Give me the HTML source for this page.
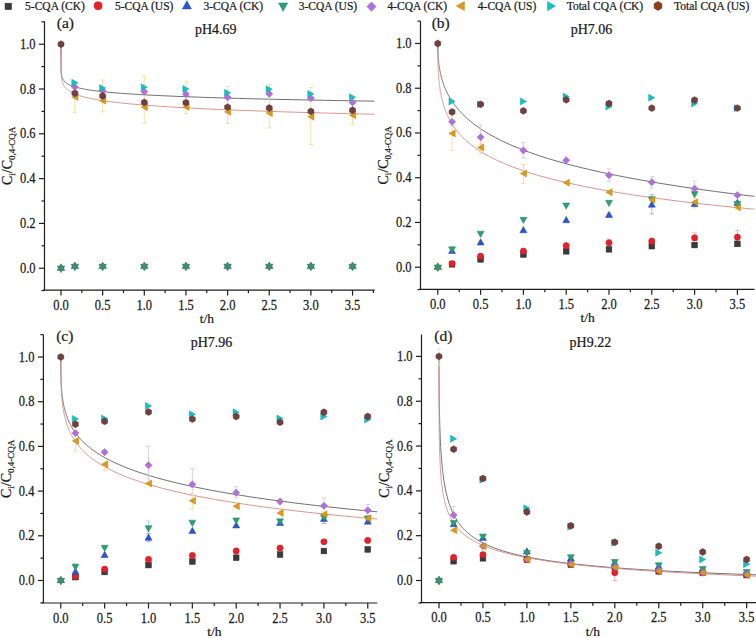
<!DOCTYPE html><html><head><meta charset="utf-8"><style>
html,body{margin:0;padding:0;background:#fff;}
body{width:756px;height:638px;overflow:hidden;position:relative;}
svg{position:absolute;left:0;top:0;}
text{font-family:"Liberation Serif",serif;fill:#1a1a1a;stroke:#1a1a1a;stroke-width:0.22px;}
</style></head><body>
<svg width="756" height="638" viewBox="0 0 756 638">
<rect x="5.04" y="3.15" width="6.51" height="6.51" fill="#3a3a3a" stroke="#2e2e2e" stroke-width="0.5"/>
<text x="25.1" y="10.2" font-size="11.5">5-CQA (CK)</text>
<circle cx="98.10" cy="5.80" r="4.08" fill="#e8202a" stroke="#c81a20" stroke-width="0.5"/>
<text x="114.9" y="10.2" font-size="11.5">5-CQA (US)</text>
<polygon points="186.90,0.72 191.46,8.88 182.34,8.88" fill="#2a55d0" stroke="#2448b0" stroke-width="0.5"/>
<text x="203.4" y="10.2" font-size="11.5">3-CQA (CK)</text>
<polygon points="283.10,11.18 287.66,3.02 278.54,3.02" fill="#28a070" stroke="#208a60" stroke-width="0.5"/>
<text x="298.7" y="10.2" font-size="11.5">3-CQA (US)</text>
<polygon points="371.50,1.92 376.18,6.60 371.50,11.28 366.82,6.60" fill="#b070dc" stroke="#9a60c8" stroke-width="0.5"/>
<text x="387.4" y="10.2" font-size="11.5">4-CQA (CK)</text>
<polygon points="456.22,6.00 464.38,1.44 464.38,10.56" fill="#dc9a18" stroke="#c08410" stroke-width="0.5"/>
<text x="477.8" y="10.2" font-size="11.5">4-CQA (US)</text>
<polygon points="555.58,6.10 547.42,1.54 547.42,10.66" fill="#16c0c2" stroke="#12a8aa" stroke-width="0.5"/>
<text x="566.7" y="10.2" font-size="11.5">Total CQA (CK)</text>
<polygon points="658.00,1.40 661.90,3.65 661.90,8.15 658.00,10.40 654.10,8.15 654.10,3.65" fill="#8a4210" stroke="#583030" stroke-width="0.5"/>
<text x="674.1" y="10.2" font-size="11.5">Total CQA (US)</text>
<g stroke="#1e1e1e" stroke-width="1.2" fill="none">
<path d="M44.5,21.6 V290.1 M43.0,290.1 H374.6"/>
<path d="M41.5,290.60 H44.5"/>
<path d="M39.0,268.20 H44.5"/>
<path d="M41.5,245.80 H44.5"/>
<path d="M39.0,223.40 H44.5"/>
<path d="M41.5,201.00 H44.5"/>
<path d="M39.0,178.60 H44.5"/>
<path d="M41.5,156.20 H44.5"/>
<path d="M39.0,133.80 H44.5"/>
<path d="M41.5,111.40 H44.5"/>
<path d="M39.0,89.00 H44.5"/>
<path d="M41.5,66.60 H44.5"/>
<path d="M39.0,44.20 H44.5"/>
<path d="M41.5,21.80 H44.5"/>
<path d="M61.00,290.1 V295.6"/>
<path d="M81.83,290.1 V293.1"/>
<path d="M102.65,290.1 V295.6"/>
<path d="M123.47,290.1 V293.1"/>
<path d="M144.30,290.1 V295.6"/>
<path d="M165.12,290.1 V293.1"/>
<path d="M185.95,290.1 V295.6"/>
<path d="M206.78,290.1 V293.1"/>
<path d="M227.60,290.1 V295.6"/>
<path d="M248.42,290.1 V293.1"/>
<path d="M269.25,290.1 V295.6"/>
<path d="M290.07,290.1 V293.1"/>
<path d="M310.90,290.1 V295.6"/>
<path d="M331.72,290.1 V293.1"/>
<path d="M352.55,290.1 V295.6"/>
<path d="M373.38,290.1 V293.1"/>
</g>
<text transform="translate(35.5,272.70) scale(1,1.18)" font-size="12.5" text-anchor="end">0.0</text>
<text transform="translate(35.5,227.90) scale(1,1.18)" font-size="12.5" text-anchor="end">0.2</text>
<text transform="translate(35.5,183.10) scale(1,1.18)" font-size="12.5" text-anchor="end">0.4</text>
<text transform="translate(35.5,138.30) scale(1,1.18)" font-size="12.5" text-anchor="end">0.6</text>
<text transform="translate(35.5,93.50) scale(1,1.18)" font-size="12.5" text-anchor="end">0.8</text>
<text transform="translate(35.5,48.70) scale(1,1.18)" font-size="12.5" text-anchor="end">1.0</text>
<text transform="translate(61.00,309.70) scale(1,1.18)" font-size="12.5" text-anchor="middle">0.0</text>
<text transform="translate(102.65,309.70) scale(1,1.18)" font-size="12.5" text-anchor="middle">0.5</text>
<text transform="translate(144.30,309.70) scale(1,1.18)" font-size="12.5" text-anchor="middle">1.0</text>
<text transform="translate(185.95,309.70) scale(1,1.18)" font-size="12.5" text-anchor="middle">1.5</text>
<text transform="translate(227.60,309.70) scale(1,1.18)" font-size="12.5" text-anchor="middle">2.0</text>
<text transform="translate(269.25,309.70) scale(1,1.18)" font-size="12.5" text-anchor="middle">2.5</text>
<text transform="translate(310.90,309.70) scale(1,1.18)" font-size="12.5" text-anchor="middle">3.0</text>
<text transform="translate(352.55,309.70) scale(1,1.18)" font-size="12.5" text-anchor="middle">3.5</text>
<text x="206.78" y="323.1" font-size="13.5" text-anchor="middle">t/h</text>
<text transform="translate(12.0,155.85000000000002) rotate(-90)" font-size="14" text-anchor="middle">C<tspan font-size="9" dy="3">i</tspan><tspan dy="-3">/C</tspan><tspan font-size="9" dy="3">0,4-CQA</tspan></text>
<text x="56.8" y="28.200000000000003" font-size="15.5">(a)</text>
<text x="195.0" y="33.900000000000006" font-size="14">pH4.69</text>
<path d="M61.00,44.20 L61.00,52.41 L61.00,52.45 L61.00,52.50 L61.00,52.54 L61.00,52.59 L61.00,52.63 L61.00,52.68 L61.00,52.73 L61.00,52.77 L61.00,52.82 L61.00,52.87 L61.00,52.92 L61.00,52.96 L61.00,53.01 L61.00,53.06 L61.00,53.11 L61.00,53.16 L61.00,53.21 L61.00,53.26 L61.00,53.31 L61.00,53.36 L61.00,53.41 L61.00,53.46 L61.00,53.51 L61.00,53.56 L61.00,53.61 L61.00,53.66 L61.00,53.71 L61.00,53.76 L61.00,53.82 L61.00,53.87 L61.00,53.92 L61.00,53.98 L61.00,54.03 L61.00,54.08 L61.00,54.14 L61.00,54.19 L61.00,54.25 L61.00,54.30 L61.00,54.35 L61.00,54.41 L61.00,54.47 L61.00,54.52 L61.00,54.58 L61.00,54.63 L61.00,54.69 L61.00,54.75 L61.00,54.81 L61.00,54.86 L61.00,54.92 L61.00,54.98 L61.00,55.04 L61.00,55.10 L61.00,55.15 L61.00,55.21 L61.00,55.27 L61.00,55.33 L61.00,55.39 L61.00,55.45 L61.00,55.52 L61.00,55.58 L61.00,55.64 L61.00,55.70 L61.00,55.76 L61.00,55.82 L61.00,55.89 L61.00,55.95 L61.00,56.01 L61.00,56.08 L61.00,56.14 L61.00,56.21 L61.00,56.27 L61.00,56.33 L61.00,56.40 L61.00,56.47 L61.00,56.53 L61.00,56.60 L61.00,56.66 L61.00,56.73 L61.00,56.80 L61.00,56.87 L61.00,56.93 L61.00,57.00 L61.00,57.07 L61.00,57.14 L61.00,57.21 L61.00,57.28 L61.00,57.35 L61.00,57.42 L61.00,57.49 L61.00,57.56 L61.00,57.63 L61.00,57.70 L61.00,57.77 L61.00,57.85 L61.00,57.92 L61.00,57.99 L61.00,58.06 L61.00,58.14 L61.00,58.21 L61.00,58.29 L61.00,58.36 L61.00,58.44 L61.00,58.51 L61.00,58.59 L61.00,58.66 L61.00,58.74 L61.00,58.82 L61.00,58.90 L61.00,58.97 L61.00,59.05 L61.00,59.13 L61.00,59.21 L61.00,59.29 L61.00,59.37 L61.00,59.45 L61.00,59.53 L61.00,59.61 L61.00,59.69 L61.00,59.77 L61.00,59.85 L61.00,59.93 L61.00,60.02 L61.00,60.10 L61.00,60.18 L61.00,60.27 L61.00,60.35 L61.00,60.44 L61.00,60.52 L61.00,60.61 L61.00,60.69 L61.00,60.78 L61.00,60.86 L61.00,60.95 L61.00,61.04 L61.00,61.13 L61.00,61.21 L61.00,61.30 L61.00,61.39 L61.00,61.48 L61.00,61.57 L61.00,61.66 L61.00,61.75 L61.00,61.84 L61.00,61.93 L61.00,62.03 L61.00,62.12 L61.01,62.21 L61.01,62.30 L61.01,62.40 L61.01,62.49 L61.01,62.59 L61.01,62.68 L61.01,62.77 L61.01,62.87 L61.01,62.97 L61.01,63.06 L61.01,63.16 L61.01,63.26 L61.01,63.36 L61.01,63.45 L61.01,63.55 L61.01,63.65 L61.01,63.75 L61.01,63.85 L61.01,63.95 L61.01,64.05 L61.01,64.15 L61.01,64.26 L61.01,64.36 L61.01,64.46 L61.01,64.56 L61.02,64.67 L61.02,64.77 L61.02,64.88 L61.02,64.98 L61.02,65.09 L61.02,65.19 L61.02,65.30 L61.02,65.40 L61.02,65.51 L61.02,65.62 L61.02,65.73 L61.02,65.84 L61.03,65.94 L61.03,66.05 L61.03,66.16 L61.03,66.27 L61.03,66.39 L61.03,66.50 L61.03,66.61 L61.04,66.72 L61.04,66.83 L61.04,66.95 L61.04,67.06 L61.04,67.18 L61.04,67.29 L61.05,67.41 L61.05,67.52 L61.05,67.64 L61.05,67.75 L61.05,67.87 L61.06,67.99 L61.06,68.11 L61.06,68.23 L61.07,68.34 L61.07,68.46 L61.07,68.58 L61.07,68.70 L61.08,68.83 L61.08,68.95 L61.08,69.07 L61.09,69.19 L61.09,69.32 L61.10,69.44 L61.10,69.56 L61.11,69.69 L61.11,69.81 L61.11,69.94 L61.12,70.06 L61.13,70.19 L61.13,70.32 L61.14,70.44 L61.14,70.57 L61.15,70.70 L61.16,70.83 L61.16,70.96 L61.17,71.09 L61.18,71.22 L61.19,71.35 L61.19,71.48 L61.20,71.62 L61.21,71.75 L61.22,71.88 L61.23,72.01 L61.24,72.15 L61.25,72.28 L61.26,72.42 L61.28,72.55 L61.29,72.69 L61.30,72.83 L61.31,72.96 L61.33,73.10 L61.34,73.24 L61.36,73.38 L61.37,73.52 L61.39,73.66 L61.41,73.80 L61.43,73.94 L61.44,74.08 L61.46,74.22 L61.49,74.37 L61.51,74.51 L61.53,74.65 L61.55,74.80 L61.58,74.94 L61.60,75.09 L61.63,75.23 L61.66,75.38 L61.69,75.53 L61.72,75.67 L61.75,75.82 L61.79,75.97 L61.82,76.12 L61.86,76.27 L61.90,76.42 L61.94,76.57 L61.98,76.72 L62.02,76.87 L62.07,77.02 L62.11,77.17 L62.16,77.33 L62.22,77.48 L62.27,77.63 L62.33,77.79 L62.39,77.94 L62.45,78.10 L62.51,78.26 L62.58,78.41 L62.65,78.57 L62.73,78.73 L62.80,78.89 L62.88,79.05 L62.97,79.21 L63.06,79.37 L63.15,79.53 L63.24,79.69 L63.34,79.85 L63.45,80.01 L63.56,80.17 L63.67,80.34 L63.79,80.50 L63.92,80.67 L64.05,80.83 L64.18,81.00 L64.32,81.16 L64.47,81.33 L64.63,81.49 L64.79,81.66 L64.96,81.83 L65.14,82.00 L65.32,82.17 L65.51,82.34 L65.72,82.51 L65.93,82.68 L66.15,82.85 L66.38,83.02 L66.62,83.19 L66.87,83.37 L67.13,83.54 L67.41,83.71 L67.69,83.89 L67.99,84.06 L68.30,84.24 L68.63,84.41 L68.97,84.59 L69.33,84.77 L69.70,84.94 L70.09,85.12 L70.49,85.30 L70.92,85.48 L71.36,85.66 L71.82,85.84 L72.31,86.02 L72.81,86.20 L73.34,86.38 L73.89,86.57 L74.47,86.75 L75.07,86.93 L75.70,87.12 L76.36,87.30 L77.04,87.48 L77.76,87.67 L78.51,87.86 L79.29,88.04 L80.11,88.23 L80.96,88.42 L81.85,88.60 L82.79,88.79 L83.76,88.98 L84.78,89.17 L85.84,89.36 L86.95,89.55 L88.11,89.74 L89.32,89.93 L90.59,90.12 L91.91,90.32 L93.29,90.51 L94.73,90.70 L96.24,90.90 L97.81,91.09 L99.46,91.29 L101.18,91.48 L102.97,91.68 L104.85,91.87 L106.81,92.07 L108.86,92.27 L111.00,92.46 L113.23,92.66 L115.56,92.86 L118.00,93.06 L120.55,93.26 L123.21,93.46 L125.99,93.66 L128.90,93.86 L131.93,94.06 L135.10,94.26 L138.41,94.47 L141.87,94.67 L145.48,94.87 L149.26,95.08 L153.20,95.28 L157.32,95.49 L161.63,95.69 L166.13,95.90 L170.82,96.10 L175.73,96.31 L180.86,96.52 L186.21,96.72 L191.81,96.93 L197.66,97.14 L203.76,97.35 L210.14,97.56 L216.81,97.77 L223.77,97.98 L231.04,98.19 L238.64,98.40 L246.58,98.61 L254.87,98.82 L263.54,99.03 L272.59,99.25 L282.05,99.46 L291.92,99.67 L302.24,99.89 L313.02,100.10 L324.29,100.31 L336.05,100.53 L348.34,100.74 L361.19,100.96 L374.60,101.18" fill="none" stroke="#606060" stroke-width="0.9"/>
<path d="M61.00,44.20 L61.00,51.33 L61.00,51.38 L61.00,51.43 L61.00,51.47 L61.00,51.52 L61.00,51.57 L61.00,51.61 L61.00,51.66 L61.00,51.71 L61.00,51.76 L61.00,51.80 L61.00,51.85 L61.00,51.90 L61.00,51.95 L61.00,52.00 L61.00,52.05 L61.00,52.10 L61.00,52.15 L61.00,52.20 L61.00,52.25 L61.00,52.31 L61.00,52.36 L61.00,52.41 L61.00,52.46 L61.00,52.51 L61.00,52.57 L61.00,52.62 L61.00,52.67 L61.00,52.73 L61.00,52.78 L61.00,52.84 L61.00,52.89 L61.00,52.95 L61.00,53.00 L61.00,53.06 L61.00,53.12 L61.00,53.17 L61.00,53.23 L61.00,53.29 L61.00,53.35 L61.00,53.40 L61.00,53.46 L61.00,53.52 L61.00,53.58 L61.00,53.64 L61.00,53.70 L61.00,53.76 L61.00,53.82 L61.00,53.88 L61.00,53.94 L61.00,54.01 L61.00,54.07 L61.00,54.13 L61.00,54.19 L61.00,54.26 L61.00,54.32 L61.00,54.38 L61.00,54.45 L61.00,54.51 L61.00,54.58 L61.00,54.64 L61.00,54.71 L61.00,54.78 L61.00,54.84 L61.00,54.91 L61.00,54.98 L61.00,55.05 L61.00,55.11 L61.00,55.18 L61.00,55.25 L61.00,55.32 L61.00,55.39 L61.00,55.46 L61.00,55.53 L61.00,55.61 L61.00,55.68 L61.00,55.75 L61.00,55.82 L61.00,55.89 L61.00,55.97 L61.00,56.04 L61.00,56.12 L61.00,56.19 L61.00,56.27 L61.00,56.34 L61.00,56.42 L61.00,56.49 L61.00,56.57 L61.00,56.65 L61.00,56.73 L61.00,56.81 L61.00,56.88 L61.00,56.96 L61.00,57.04 L61.00,57.12 L61.00,57.20 L61.00,57.29 L61.00,57.37 L61.00,57.45 L61.00,57.53 L61.00,57.61 L61.00,57.70 L61.00,57.78 L61.00,57.87 L61.00,57.95 L61.00,58.04 L61.00,58.12 L61.00,58.21 L61.00,58.30 L61.00,58.38 L61.00,58.47 L61.00,58.56 L61.00,58.65 L61.00,58.74 L61.00,58.83 L61.00,58.92 L61.00,59.01 L61.00,59.10 L61.00,59.20 L61.00,59.29 L61.00,59.38 L61.00,59.47 L61.00,59.57 L61.00,59.66 L61.00,59.76 L61.00,59.86 L61.00,59.95 L61.00,60.05 L61.00,60.15 L61.00,60.24 L61.00,60.34 L61.00,60.44 L61.00,60.54 L61.00,60.64 L61.00,60.74 L61.00,60.84 L61.00,60.95 L61.00,61.05 L61.00,61.15 L61.00,61.26 L61.00,61.36 L61.00,61.47 L61.00,61.57 L61.00,61.68 L61.00,61.78 L61.00,61.89 L61.00,62.00 L61.01,62.11 L61.01,62.22 L61.01,62.33 L61.01,62.44 L61.01,62.55 L61.01,62.66 L61.01,62.77 L61.01,62.88 L61.01,63.00 L61.01,63.11 L61.01,63.22 L61.01,63.34 L61.01,63.46 L61.01,63.57 L61.01,63.69 L61.01,63.81 L61.01,63.93 L61.01,64.04 L61.01,64.16 L61.01,64.28 L61.01,64.41 L61.01,64.53 L61.01,64.65 L61.01,64.77 L61.01,64.90 L61.02,65.02 L61.02,65.15 L61.02,65.27 L61.02,65.40 L61.02,65.52 L61.02,65.65 L61.02,65.78 L61.02,65.91 L61.02,66.04 L61.02,66.17 L61.02,66.30 L61.02,66.43 L61.03,66.56 L61.03,66.70 L61.03,66.83 L61.03,66.97 L61.03,67.10 L61.03,67.24 L61.03,67.37 L61.04,67.51 L61.04,67.65 L61.04,67.79 L61.04,67.93 L61.04,68.07 L61.04,68.21 L61.05,68.35 L61.05,68.49 L61.05,68.64 L61.05,68.78 L61.05,68.92 L61.06,69.07 L61.06,69.22 L61.06,69.36 L61.07,69.51 L61.07,69.66 L61.07,69.81 L61.07,69.96 L61.08,70.11 L61.08,70.26 L61.08,70.41 L61.09,70.57 L61.09,70.72 L61.10,70.87 L61.10,71.03 L61.11,71.19 L61.11,71.34 L61.11,71.50 L61.12,71.66 L61.13,71.82 L61.13,71.98 L61.14,72.14 L61.14,72.30 L61.15,72.46 L61.16,72.62 L61.16,72.79 L61.17,72.95 L61.18,73.12 L61.19,73.29 L61.19,73.45 L61.20,73.62 L61.21,73.79 L61.22,73.96 L61.23,74.13 L61.24,74.30 L61.25,74.47 L61.26,74.65 L61.28,74.82 L61.29,74.99 L61.30,75.17 L61.31,75.34 L61.33,75.52 L61.34,75.70 L61.36,75.88 L61.37,76.06 L61.39,76.24 L61.41,76.42 L61.43,76.60 L61.44,76.78 L61.46,76.97 L61.49,77.15 L61.51,77.34 L61.53,77.52 L61.55,77.71 L61.58,77.90 L61.60,78.09 L61.63,78.28 L61.66,78.47 L61.69,78.66 L61.72,78.85 L61.75,79.05 L61.79,79.24 L61.82,79.43 L61.86,79.63 L61.90,79.83 L61.94,80.02 L61.98,80.22 L62.02,80.42 L62.07,80.62 L62.11,80.82 L62.16,81.03 L62.22,81.23 L62.27,81.43 L62.33,81.64 L62.39,81.84 L62.45,82.05 L62.51,82.26 L62.58,82.46 L62.65,82.67 L62.73,82.88 L62.80,83.09 L62.88,83.31 L62.97,83.52 L63.06,83.73 L63.15,83.95 L63.24,84.16 L63.34,84.38 L63.45,84.60 L63.56,84.81 L63.67,85.03 L63.79,85.25 L63.92,85.47 L64.05,85.70 L64.18,85.92 L64.32,86.14 L64.47,86.37 L64.63,86.59 L64.79,86.82 L64.96,87.04 L65.14,87.27 L65.32,87.50 L65.51,87.73 L65.72,87.96 L65.93,88.19 L66.15,88.43 L66.38,88.66 L66.62,88.89 L66.87,89.13 L67.13,89.37 L67.41,89.60 L67.69,89.84 L67.99,90.08 L68.30,90.32 L68.63,90.56 L68.97,90.80 L69.33,91.05 L69.70,91.29 L70.09,91.53 L70.49,91.78 L70.92,92.03 L71.36,92.27 L71.82,92.52 L72.31,92.77 L72.81,93.02 L73.34,93.27 L73.89,93.52 L74.47,93.78 L75.07,94.03 L75.70,94.28 L76.36,94.54 L77.04,94.80 L77.76,95.05 L78.51,95.31 L79.29,95.57 L80.11,95.83 L80.96,96.09 L81.85,96.35 L82.79,96.62 L83.76,96.88 L84.78,97.14 L85.84,97.41 L86.95,97.68 L88.11,97.94 L89.32,98.21 L90.59,98.48 L91.91,98.75 L93.29,99.02 L94.73,99.29 L96.24,99.57 L97.81,99.84 L99.46,100.11 L101.18,100.39 L102.97,100.66 L104.85,100.94 L106.81,101.22 L108.86,101.50 L111.00,101.78 L113.23,102.06 L115.56,102.34 L118.00,102.62 L120.55,102.90 L123.21,103.19 L125.99,103.47 L128.90,103.76 L131.93,104.05 L135.10,104.33 L138.41,104.62 L141.87,104.91 L145.48,105.20 L149.26,105.49 L153.20,105.78 L157.32,106.07 L161.63,106.37 L166.13,106.66 L170.82,106.96 L175.73,107.25 L180.86,107.55 L186.21,107.85 L191.81,108.14 L197.66,108.44 L203.76,108.74 L210.14,109.04 L216.81,109.35 L223.77,109.65 L231.04,109.95 L238.64,110.25 L246.58,110.56 L254.87,110.86 L263.54,111.17 L272.59,111.48 L282.05,111.78 L291.92,112.09 L302.24,112.40 L313.02,112.71 L324.29,113.02 L336.05,113.33 L348.34,113.65 L361.19,113.96 L374.60,114.27" fill="none" stroke="#d88a80" stroke-width="0.9"/>
<path d="M74.88,112.30 V82.28 M72.58,112.30 H77.18 M72.58,82.28 H77.18" stroke="#f0da98" stroke-width="0.85" fill="none"/>
<path d="M102.65,111.85 V80.04 M100.35,111.85 H104.95 M100.35,80.04 H104.95" stroke="#f0da98" stroke-width="0.85" fill="none"/>
<path d="M144.30,123.05 V76.23 M142.00,123.05 H146.60 M142.00,76.23 H146.60" stroke="#f0da98" stroke-width="0.85" fill="none"/>
<path d="M185.95,113.64 V81.38 M183.65,113.64 H188.25 M183.65,81.38 H188.25" stroke="#f0da98" stroke-width="0.85" fill="none"/>
<path d="M227.60,123.27 V86.54 M225.30,123.27 H229.90 M225.30,86.54 H229.90" stroke="#f0da98" stroke-width="0.85" fill="none"/>
<path d="M269.25,127.98 V84.52 M266.95,127.98 H271.55 M266.95,84.52 H271.55" stroke="#f0da98" stroke-width="0.85" fill="none"/>
<path d="M310.90,144.55 V87.43 M308.60,144.55 H313.20 M308.60,87.43 H313.20" stroke="#f0da98" stroke-width="0.85" fill="none"/>
<path d="M352.55,124.84 V97.96 M350.25,124.84 H354.85 M350.25,97.96 H354.85" stroke="#f0da98" stroke-width="0.85" fill="none"/>
<polygon points="61.00,263.80 64.80,270.40 57.20,270.40" fill="#348c6c" stroke="#2c6450" stroke-width="0.5"/>
<polygon points="61.00,272.60 64.80,266.00 57.20,266.00" fill="#348c6c" stroke="#2c6450" stroke-width="0.5"/>
<circle cx="61.00" cy="268.20" r="2.6" fill="#3c9070"/>
<polygon points="74.88,262.01 78.68,268.61 71.08,268.61" fill="#348c6c" stroke="#2c6450" stroke-width="0.5"/>
<polygon points="74.88,270.81 78.68,264.21 71.08,264.21" fill="#348c6c" stroke="#2c6450" stroke-width="0.5"/>
<circle cx="74.88" cy="266.41" r="2.6" fill="#3c9070"/>
<polygon points="102.65,262.01 106.45,268.61 98.85,268.61" fill="#348c6c" stroke="#2c6450" stroke-width="0.5"/>
<polygon points="102.65,270.81 106.45,264.21 98.85,264.21" fill="#348c6c" stroke="#2c6450" stroke-width="0.5"/>
<circle cx="102.65" cy="266.41" r="2.6" fill="#3c9070"/>
<polygon points="144.30,262.01 148.10,268.61 140.50,268.61" fill="#348c6c" stroke="#2c6450" stroke-width="0.5"/>
<polygon points="144.30,270.81 148.10,264.21 140.50,264.21" fill="#348c6c" stroke="#2c6450" stroke-width="0.5"/>
<circle cx="144.30" cy="266.41" r="2.6" fill="#3c9070"/>
<polygon points="185.95,262.01 189.75,268.61 182.15,268.61" fill="#348c6c" stroke="#2c6450" stroke-width="0.5"/>
<polygon points="185.95,270.81 189.75,264.21 182.15,264.21" fill="#348c6c" stroke="#2c6450" stroke-width="0.5"/>
<circle cx="185.95" cy="266.41" r="2.6" fill="#3c9070"/>
<polygon points="227.60,262.01 231.40,268.61 223.80,268.61" fill="#348c6c" stroke="#2c6450" stroke-width="0.5"/>
<polygon points="227.60,270.81 231.40,264.21 223.80,264.21" fill="#348c6c" stroke="#2c6450" stroke-width="0.5"/>
<circle cx="227.60" cy="266.41" r="2.6" fill="#3c9070"/>
<polygon points="269.25,262.01 273.05,268.61 265.45,268.61" fill="#348c6c" stroke="#2c6450" stroke-width="0.5"/>
<polygon points="269.25,270.81 273.05,264.21 265.45,264.21" fill="#348c6c" stroke="#2c6450" stroke-width="0.5"/>
<circle cx="269.25" cy="266.41" r="2.6" fill="#3c9070"/>
<polygon points="310.90,262.01 314.70,268.61 307.10,268.61" fill="#348c6c" stroke="#2c6450" stroke-width="0.5"/>
<polygon points="310.90,270.81 314.70,264.21 307.10,264.21" fill="#348c6c" stroke="#2c6450" stroke-width="0.5"/>
<circle cx="310.90" cy="266.41" r="2.6" fill="#3c9070"/>
<polygon points="352.55,262.01 356.35,268.61 348.75,268.61" fill="#348c6c" stroke="#2c6450" stroke-width="0.5"/>
<polygon points="352.55,270.81 356.35,264.21 348.75,264.21" fill="#348c6c" stroke="#2c6450" stroke-width="0.5"/>
<circle cx="352.55" cy="266.41" r="2.6" fill="#3c9070"/>
<polygon points="74.88,83.40 78.47,86.98 74.88,90.57 71.30,86.98" fill="#b070dc" stroke="#9a60c8" stroke-width="0.5"/>
<polygon points="102.65,87.20 106.24,90.79 102.65,94.38 99.06,90.79" fill="#b070dc" stroke="#9a60c8" stroke-width="0.5"/>
<polygon points="144.30,88.10 147.89,91.69 144.30,95.28 140.71,91.69" fill="#b070dc" stroke="#9a60c8" stroke-width="0.5"/>
<polygon points="185.95,90.56 189.54,94.15 185.95,97.74 182.36,94.15" fill="#b070dc" stroke="#9a60c8" stroke-width="0.5"/>
<polygon points="227.60,93.70 231.19,97.29 227.60,100.88 224.01,97.29" fill="#b070dc" stroke="#9a60c8" stroke-width="0.5"/>
<polygon points="269.25,90.34 272.84,93.93 269.25,97.52 265.66,93.93" fill="#b070dc" stroke="#9a60c8" stroke-width="0.5"/>
<polygon points="310.90,94.60 314.49,98.18 310.90,101.77 307.31,98.18" fill="#b070dc" stroke="#9a60c8" stroke-width="0.5"/>
<polygon points="352.55,98.85 356.14,102.44 352.55,106.03 348.96,102.44" fill="#b070dc" stroke="#9a60c8" stroke-width="0.5"/>
<polygon points="71.76,97.06 78.01,93.57 78.01,100.56" fill="#dc9a18" stroke="#c08410" stroke-width="0.5"/>
<polygon points="99.52,100.65 105.78,97.15 105.78,104.14" fill="#dc9a18" stroke="#c08410" stroke-width="0.5"/>
<polygon points="141.17,107.14 147.43,103.65 147.43,110.64" fill="#dc9a18" stroke="#c08410" stroke-width="0.5"/>
<polygon points="182.82,106.92 189.08,103.42 189.08,110.42" fill="#dc9a18" stroke="#c08410" stroke-width="0.5"/>
<polygon points="224.47,111.85 230.73,108.35 230.73,115.34" fill="#dc9a18" stroke="#c08410" stroke-width="0.5"/>
<polygon points="266.12,113.19 272.38,109.70 272.38,116.69" fill="#dc9a18" stroke="#c08410" stroke-width="0.5"/>
<polygon points="307.77,116.78 314.03,113.28 314.03,120.27" fill="#dc9a18" stroke="#c08410" stroke-width="0.5"/>
<polygon points="349.42,115.21 355.68,111.71 355.68,118.70" fill="#dc9a18" stroke="#c08410" stroke-width="0.5"/>
<polygon points="78.01,82.73 71.76,79.23 71.76,86.22" fill="#16c0c2" stroke="#12a8aa" stroke-width="0.5"/>
<polygon points="105.78,88.10 99.52,84.61 99.52,91.60" fill="#16c0c2" stroke="#12a8aa" stroke-width="0.5"/>
<polygon points="147.43,87.21 141.17,83.71 141.17,90.70" fill="#16c0c2" stroke="#12a8aa" stroke-width="0.5"/>
<polygon points="189.08,89.00 182.82,85.50 182.82,92.50" fill="#16c0c2" stroke="#12a8aa" stroke-width="0.5"/>
<polygon points="230.73,92.81 224.47,89.31 224.47,96.30" fill="#16c0c2" stroke="#12a8aa" stroke-width="0.5"/>
<polygon points="272.38,89.22 266.12,85.73 266.12,92.72" fill="#16c0c2" stroke="#12a8aa" stroke-width="0.5"/>
<polygon points="314.03,93.93 307.77,90.43 307.77,97.42" fill="#16c0c2" stroke="#12a8aa" stroke-width="0.5"/>
<polygon points="355.68,97.29 349.42,93.79 349.42,100.78" fill="#16c0c2" stroke="#12a8aa" stroke-width="0.5"/>
<polygon points="61.00,40.75 63.99,42.47 63.99,45.92 61.00,47.65 58.01,45.92 58.01,42.47" fill="#704040" stroke="#583030" stroke-width="0.5"/>
<polygon points="74.88,89.81 77.87,91.53 77.87,94.98 74.88,96.71 71.90,94.98 71.90,91.53" fill="#704040" stroke="#583030" stroke-width="0.5"/>
<polygon points="102.65,92.49 105.64,94.22 105.64,97.67 102.65,99.39 99.66,97.67 99.66,94.22" fill="#704040" stroke="#583030" stroke-width="0.5"/>
<polygon points="144.30,98.99 147.29,100.72 147.29,104.16 144.30,105.89 141.31,104.16 141.31,100.72" fill="#704040" stroke="#583030" stroke-width="0.5"/>
<polygon points="185.95,99.21 188.94,100.94 188.94,104.39 185.95,106.11 182.96,104.39 182.96,100.94" fill="#704040" stroke="#583030" stroke-width="0.5"/>
<polygon points="227.60,103.69 230.59,105.42 230.59,108.87 227.60,110.59 224.61,108.87 224.61,105.42" fill="#704040" stroke="#583030" stroke-width="0.5"/>
<polygon points="269.25,104.59 272.24,106.31 272.24,109.76 269.25,111.49 266.26,109.76 266.26,106.31" fill="#704040" stroke="#583030" stroke-width="0.5"/>
<polygon points="310.90,107.95 313.89,109.68 313.89,113.12 310.90,114.85 307.91,113.12 307.91,109.68" fill="#704040" stroke="#583030" stroke-width="0.5"/>
<polygon points="352.55,106.83 355.54,108.56 355.54,112.00 352.55,113.73 349.56,112.00 349.56,108.56" fill="#704040" stroke="#583030" stroke-width="0.5"/>
<g stroke="#1e1e1e" stroke-width="1.2" fill="none">
<path d="M420.5,21.3 V289.3 M419.0,289.3 H754.5"/>
<path d="M417.5,289.57 H420.5"/>
<path d="M415.0,267.20 H420.5"/>
<path d="M417.5,244.83 H420.5"/>
<path d="M415.0,222.46 H420.5"/>
<path d="M417.5,200.09 H420.5"/>
<path d="M415.0,177.72 H420.5"/>
<path d="M417.5,155.35 H420.5"/>
<path d="M415.0,132.98 H420.5"/>
<path d="M417.5,110.61 H420.5"/>
<path d="M415.0,88.24 H420.5"/>
<path d="M417.5,65.87 H420.5"/>
<path d="M415.0,43.50 H420.5"/>
<path d="M417.5,21.13 H420.5"/>
<path d="M437.80,289.3 V294.8"/>
<path d="M459.20,289.3 V292.3"/>
<path d="M480.60,289.3 V294.8"/>
<path d="M502.00,289.3 V292.3"/>
<path d="M523.40,289.3 V294.8"/>
<path d="M544.80,289.3 V292.3"/>
<path d="M566.20,289.3 V294.8"/>
<path d="M587.60,289.3 V292.3"/>
<path d="M609.00,289.3 V294.8"/>
<path d="M630.40,289.3 V292.3"/>
<path d="M651.80,289.3 V294.8"/>
<path d="M673.20,289.3 V292.3"/>
<path d="M694.60,289.3 V294.8"/>
<path d="M716.00,289.3 V292.3"/>
<path d="M737.40,289.3 V294.8"/>
</g>
<text transform="translate(411.5,271.70) scale(1,1.18)" font-size="12.5" text-anchor="end">0.0</text>
<text transform="translate(411.5,226.96) scale(1,1.18)" font-size="12.5" text-anchor="end">0.2</text>
<text transform="translate(411.5,182.22) scale(1,1.18)" font-size="12.5" text-anchor="end">0.4</text>
<text transform="translate(411.5,137.48) scale(1,1.18)" font-size="12.5" text-anchor="end">0.6</text>
<text transform="translate(411.5,92.74) scale(1,1.18)" font-size="12.5" text-anchor="end">0.8</text>
<text transform="translate(411.5,48.00) scale(1,1.18)" font-size="12.5" text-anchor="end">1.0</text>
<text transform="translate(437.80,308.90) scale(1,1.18)" font-size="12.5" text-anchor="middle">0.0</text>
<text transform="translate(480.60,308.90) scale(1,1.18)" font-size="12.5" text-anchor="middle">0.5</text>
<text transform="translate(523.40,308.90) scale(1,1.18)" font-size="12.5" text-anchor="middle">1.0</text>
<text transform="translate(566.20,308.90) scale(1,1.18)" font-size="12.5" text-anchor="middle">1.5</text>
<text transform="translate(609.00,308.90) scale(1,1.18)" font-size="12.5" text-anchor="middle">2.0</text>
<text transform="translate(651.80,308.90) scale(1,1.18)" font-size="12.5" text-anchor="middle">2.5</text>
<text transform="translate(694.60,308.90) scale(1,1.18)" font-size="12.5" text-anchor="middle">3.0</text>
<text transform="translate(737.40,308.90) scale(1,1.18)" font-size="12.5" text-anchor="middle">3.5</text>
<text x="587.60" y="322.3" font-size="13.5" text-anchor="middle">t/h</text>
<text transform="translate(388.0,155.3) rotate(-90)" font-size="14" text-anchor="middle">C<tspan font-size="9" dy="3">i</tspan><tspan dy="-3">/C</tspan><tspan font-size="9" dy="3">0,4-CQA</tspan></text>
<text x="431.7" y="27.9" font-size="15.5">(b)</text>
<text x="570.6999999999999" y="33.6" font-size="14">pH7.06</text>
<path d="M437.80,43.50 L437.80,43.61 L437.80,43.61 L437.80,43.61 L437.80,43.62 L437.80,43.62 L437.80,43.62 L437.80,43.62 L437.80,43.63 L437.80,43.63 L437.80,43.63 L437.80,43.63 L437.80,43.64 L437.80,43.64 L437.80,43.64 L437.80,43.64 L437.80,43.65 L437.80,43.65 L437.80,43.65 L437.80,43.66 L437.80,43.66 L437.80,43.66 L437.80,43.67 L437.80,43.67 L437.80,43.67 L437.80,43.68 L437.80,43.68 L437.80,43.68 L437.80,43.69 L437.80,43.69 L437.80,43.69 L437.80,43.70 L437.80,43.70 L437.80,43.71 L437.80,43.71 L437.80,43.71 L437.80,43.72 L437.80,43.72 L437.80,43.73 L437.80,43.73 L437.80,43.74 L437.80,43.74 L437.80,43.75 L437.80,43.75 L437.80,43.75 L437.80,43.76 L437.80,43.77 L437.80,43.77 L437.80,43.78 L437.80,43.78 L437.80,43.79 L437.80,43.79 L437.80,43.80 L437.80,43.80 L437.80,43.81 L437.80,43.82 L437.80,43.82 L437.80,43.83 L437.80,43.84 L437.80,43.84 L437.80,43.85 L437.80,43.86 L437.80,43.86 L437.80,43.87 L437.80,43.88 L437.80,43.89 L437.80,43.89 L437.80,43.90 L437.80,43.91 L437.80,43.92 L437.80,43.93 L437.80,43.93 L437.80,43.94 L437.80,43.95 L437.80,43.96 L437.80,43.97 L437.80,43.98 L437.80,43.99 L437.80,44.00 L437.80,44.01 L437.80,44.02 L437.80,44.03 L437.80,44.04 L437.80,44.05 L437.80,44.06 L437.80,44.07 L437.80,44.08 L437.80,44.09 L437.80,44.11 L437.80,44.12 L437.80,44.13 L437.80,44.14 L437.80,44.16 L437.80,44.17 L437.80,44.18 L437.80,44.20 L437.80,44.21 L437.80,44.22 L437.80,44.24 L437.80,44.25 L437.80,44.27 L437.80,44.28 L437.80,44.30 L437.80,44.31 L437.80,44.33 L437.80,44.35 L437.80,44.36 L437.80,44.38 L437.80,44.40 L437.80,44.42 L437.80,44.43 L437.80,44.45 L437.80,44.47 L437.80,44.49 L437.80,44.51 L437.80,44.53 L437.80,44.55 L437.80,44.57 L437.80,44.59 L437.80,44.61 L437.80,44.64 L437.80,44.66 L437.80,44.68 L437.80,44.70 L437.80,44.73 L437.80,44.75 L437.80,44.78 L437.80,44.80 L437.80,44.83 L437.80,44.86 L437.80,44.88 L437.80,44.91 L437.80,44.94 L437.80,44.97 L437.80,45.00 L437.80,45.02 L437.80,45.05 L437.80,45.09 L437.80,45.12 L437.80,45.15 L437.80,45.18 L437.80,45.21 L437.80,45.25 L437.80,45.28 L437.80,45.32 L437.80,45.35 L437.80,45.39 L437.81,45.43 L437.81,45.47 L437.81,45.51 L437.81,45.55 L437.81,45.59 L437.81,45.63 L437.81,45.67 L437.81,45.71 L437.81,45.76 L437.81,45.80 L437.81,45.85 L437.81,45.89 L437.81,45.94 L437.81,45.99 L437.81,46.04 L437.81,46.09 L437.81,46.14 L437.81,46.19 L437.81,46.24 L437.81,46.30 L437.81,46.35 L437.81,46.41 L437.81,46.47 L437.81,46.52 L437.81,46.58 L437.81,46.64 L437.82,46.71 L437.82,46.77 L437.82,46.83 L437.82,46.90 L437.82,46.97 L437.82,47.03 L437.82,47.10 L437.82,47.17 L437.82,47.25 L437.82,47.32 L437.82,47.40 L437.83,47.47 L437.83,47.55 L437.83,47.63 L437.83,47.71 L437.83,47.79 L437.83,47.88 L437.83,47.96 L437.83,48.05 L437.84,48.14 L437.84,48.23 L437.84,48.32 L437.84,48.42 L437.84,48.52 L437.84,48.61 L437.85,48.71 L437.85,48.82 L437.85,48.92 L437.85,49.03 L437.86,49.13 L437.86,49.24 L437.86,49.36 L437.86,49.47 L437.87,49.59 L437.87,49.71 L437.87,49.83 L437.88,49.95 L437.88,50.08 L437.88,50.20 L437.89,50.33 L437.89,50.47 L437.89,50.60 L437.90,50.74 L437.90,50.88 L437.91,51.03 L437.91,51.17 L437.92,51.32 L437.92,51.47 L437.93,51.63 L437.93,51.78 L437.94,51.95 L437.95,52.11 L437.95,52.28 L437.96,52.45 L437.97,52.62 L437.97,52.79 L437.98,52.97 L437.99,53.16 L438.00,53.34 L438.01,53.53 L438.02,53.73 L438.02,53.92 L438.03,54.12 L438.05,54.33 L438.06,54.54 L438.07,54.75 L438.08,54.97 L438.09,55.19 L438.11,55.41 L438.12,55.64 L438.13,55.87 L438.15,56.11 L438.16,56.35 L438.18,56.59 L438.20,56.84 L438.21,57.10 L438.23,57.36 L438.25,57.62 L438.27,57.89 L438.29,58.16 L438.32,58.44 L438.34,58.73 L438.36,59.01 L438.39,59.31 L438.41,59.61 L438.44,59.91 L438.47,60.22 L438.50,60.54 L438.53,60.86 L438.56,61.19 L438.60,61.52 L438.63,61.86 L438.67,62.20 L438.71,62.55 L438.75,62.91 L438.79,63.27 L438.84,63.64 L438.88,64.02 L438.93,64.40 L438.98,64.79 L439.04,65.18 L439.09,65.59 L439.15,66.00 L439.21,66.41 L439.27,66.84 L439.34,67.27 L439.41,67.71 L439.48,68.15 L439.55,68.61 L439.63,69.07 L439.71,69.54 L439.80,70.01 L439.89,70.50 L439.98,70.99 L440.08,71.49 L440.18,72.00 L440.28,72.52 L440.40,73.04 L440.51,73.58 L440.63,74.12 L440.76,74.67 L440.89,75.23 L441.03,75.80 L441.17,76.38 L441.32,76.97 L441.48,77.57 L441.64,78.17 L441.82,78.79 L442.00,79.42 L442.18,80.05 L442.38,80.70 L442.58,81.35 L442.80,82.02 L443.02,82.69 L443.25,83.38 L443.50,84.08 L443.75,84.78 L444.02,85.50 L444.29,86.23 L444.58,86.97 L444.89,87.72 L445.20,88.48 L445.53,89.25 L445.88,90.03 L446.24,90.83 L446.62,91.63 L447.01,92.45 L447.42,93.27 L447.85,94.11 L448.30,94.97 L448.77,95.83 L449.26,96.70 L449.77,97.59 L450.30,98.49 L450.86,99.40 L451.44,100.32 L452.05,101.25 L452.69,102.20 L453.35,103.16 L454.05,104.13 L454.77,105.11 L455.53,106.10 L456.32,107.11 L457.15,108.13 L458.01,109.16 L458.92,110.20 L459.86,111.26 L460.85,112.33 L461.87,113.41 L462.95,114.50 L464.07,115.61 L465.24,116.73 L466.47,117.86 L467.75,119.00 L469.09,120.16 L470.48,121.33 L471.94,122.51 L473.47,123.70 L475.06,124.90 L476.72,126.12 L478.46,127.35 L480.27,128.59 L482.17,129.84 L484.15,131.11 L486.22,132.39 L488.38,133.67 L490.64,134.97 L493.00,136.29 L495.46,137.61 L498.04,138.94 L500.73,140.29 L503.54,141.65 L506.47,143.02 L509.54,144.39 L512.74,145.78 L516.08,147.18 L519.58,148.59 L523.23,150.02 L527.04,151.45 L531.03,152.89 L535.19,154.34 L539.54,155.80 L544.08,157.27 L548.82,158.75 L553.78,160.23 L558.96,161.73 L564.37,163.24 L570.02,164.75 L575.92,166.27 L582.09,167.80 L588.53,169.34 L595.26,170.88 L602.29,172.43 L609.63,173.99 L617.30,175.56 L625.31,177.13 L633.69,178.70 L642.43,180.29 L651.57,181.88 L661.11,183.47 L671.08,185.07 L681.49,186.67 L692.37,188.28 L703.74,189.89 L715.61,191.51 L728.01,193.13 L740.97,194.75 L754.50,196.38" fill="none" stroke="#606060" stroke-width="0.9"/>
<path d="M437.80,43.50 L437.80,43.95 L437.80,43.95 L437.80,43.96 L437.80,43.97 L437.80,43.98 L437.80,43.98 L437.80,43.99 L437.80,44.00 L437.80,44.01 L437.80,44.02 L437.80,44.03 L437.80,44.04 L437.80,44.04 L437.80,44.05 L437.80,44.06 L437.80,44.07 L437.80,44.08 L437.80,44.09 L437.80,44.10 L437.80,44.11 L437.80,44.12 L437.80,44.13 L437.80,44.14 L437.80,44.15 L437.80,44.17 L437.80,44.18 L437.80,44.19 L437.80,44.20 L437.80,44.21 L437.80,44.22 L437.80,44.24 L437.80,44.25 L437.80,44.26 L437.80,44.27 L437.80,44.29 L437.80,44.30 L437.80,44.31 L437.80,44.33 L437.80,44.34 L437.80,44.35 L437.80,44.37 L437.80,44.38 L437.80,44.40 L437.80,44.41 L437.80,44.43 L437.80,44.44 L437.80,44.46 L437.80,44.48 L437.80,44.49 L437.80,44.51 L437.80,44.53 L437.80,44.54 L437.80,44.56 L437.80,44.58 L437.80,44.60 L437.80,44.62 L437.80,44.64 L437.80,44.65 L437.80,44.67 L437.80,44.69 L437.80,44.71 L437.80,44.73 L437.80,44.76 L437.80,44.78 L437.80,44.80 L437.80,44.82 L437.80,44.84 L437.80,44.86 L437.80,44.89 L437.80,44.91 L437.80,44.93 L437.80,44.96 L437.80,44.98 L437.80,45.01 L437.80,45.03 L437.80,45.06 L437.80,45.09 L437.80,45.11 L437.80,45.14 L437.80,45.17 L437.80,45.19 L437.80,45.22 L437.80,45.25 L437.80,45.28 L437.80,45.31 L437.80,45.34 L437.80,45.37 L437.80,45.40 L437.80,45.44 L437.80,45.47 L437.80,45.50 L437.80,45.54 L437.80,45.57 L437.80,45.60 L437.80,45.64 L437.80,45.68 L437.80,45.71 L437.80,45.75 L437.80,45.79 L437.80,45.83 L437.80,45.86 L437.80,45.90 L437.80,45.94 L437.80,45.99 L437.80,46.03 L437.80,46.07 L437.80,46.11 L437.80,46.16 L437.80,46.20 L437.80,46.25 L437.80,46.29 L437.80,46.34 L437.80,46.39 L437.80,46.44 L437.80,46.48 L437.80,46.53 L437.80,46.58 L437.80,46.64 L437.80,46.69 L437.80,46.74 L437.80,46.80 L437.80,46.85 L437.80,46.91 L437.80,46.96 L437.80,47.02 L437.80,47.08 L437.80,47.14 L437.80,47.20 L437.80,47.26 L437.80,47.33 L437.80,47.39 L437.80,47.46 L437.80,47.52 L437.80,47.59 L437.80,47.66 L437.80,47.73 L437.80,47.80 L437.80,47.87 L437.80,47.94 L437.80,48.01 L437.80,48.09 L437.80,48.17 L437.80,48.24 L437.80,48.32 L437.80,48.40 L437.80,48.48 L437.81,48.57 L437.81,48.65 L437.81,48.74 L437.81,48.82 L437.81,48.91 L437.81,49.00 L437.81,49.09 L437.81,49.19 L437.81,49.28 L437.81,49.38 L437.81,49.47 L437.81,49.57 L437.81,49.67 L437.81,49.78 L437.81,49.88 L437.81,49.99 L437.81,50.09 L437.81,50.20 L437.81,50.31 L437.81,50.43 L437.81,50.54 L437.81,50.66 L437.81,50.77 L437.81,50.89 L437.81,51.02 L437.81,51.14 L437.82,51.27 L437.82,51.39 L437.82,51.52 L437.82,51.66 L437.82,51.79 L437.82,51.93 L437.82,52.06 L437.82,52.21 L437.82,52.35 L437.82,52.49 L437.82,52.64 L437.83,52.79 L437.83,52.94 L437.83,53.10 L437.83,53.25 L437.83,53.41 L437.83,53.58 L437.83,53.74 L437.83,53.91 L437.84,54.08 L437.84,54.25 L437.84,54.43 L437.84,54.60 L437.84,54.79 L437.84,54.97 L437.85,55.16 L437.85,55.34 L437.85,55.54 L437.85,55.73 L437.86,55.93 L437.86,56.13 L437.86,56.34 L437.86,56.55 L437.87,56.76 L437.87,56.97 L437.87,57.19 L437.88,57.41 L437.88,57.63 L437.88,57.86 L437.89,58.09 L437.89,58.33 L437.89,58.57 L437.90,58.81 L437.90,59.05 L437.91,59.30 L437.91,59.56 L437.92,59.81 L437.92,60.07 L437.93,60.34 L437.93,60.61 L437.94,60.88 L437.95,61.16 L437.95,61.44 L437.96,61.72 L437.97,62.01 L437.97,62.31 L437.98,62.61 L437.99,62.91 L438.00,63.22 L438.01,63.53 L438.02,63.84 L438.02,64.16 L438.03,64.49 L438.05,64.82 L438.06,65.15 L438.07,65.49 L438.08,65.84 L438.09,66.19 L438.11,66.54 L438.12,66.90 L438.13,67.27 L438.15,67.64 L438.16,68.02 L438.18,68.40 L438.20,68.78 L438.21,69.17 L438.23,69.57 L438.25,69.97 L438.27,70.38 L438.29,70.80 L438.32,71.22 L438.34,71.64 L438.36,72.08 L438.39,72.51 L438.41,72.96 L438.44,73.41 L438.47,73.86 L438.50,74.32 L438.53,74.79 L438.56,75.27 L438.60,75.75 L438.63,76.23 L438.67,76.73 L438.71,77.23 L438.75,77.74 L438.79,78.25 L438.84,78.77 L438.88,79.30 L438.93,79.83 L438.98,80.37 L439.04,80.92 L439.09,81.47 L439.15,82.04 L439.21,82.60 L439.27,83.18 L439.34,83.76 L439.41,84.35 L439.48,84.95 L439.55,85.56 L439.63,86.17 L439.71,86.79 L439.80,87.42 L439.89,88.05 L439.98,88.70 L440.08,89.35 L440.18,90.00 L440.28,90.67 L440.40,91.34 L440.51,92.03 L440.63,92.71 L440.76,93.41 L440.89,94.12 L441.03,94.83 L441.17,95.55 L441.32,96.28 L441.48,97.02 L441.64,97.76 L441.82,98.52 L442.00,99.28 L442.18,100.05 L442.38,100.83 L442.58,101.62 L442.80,102.41 L443.02,103.21 L443.25,104.02 L443.50,104.84 L443.75,105.67 L444.02,106.51 L444.29,107.35 L444.58,108.21 L444.89,109.07 L445.20,109.94 L445.53,110.82 L445.88,111.70 L446.24,112.60 L446.62,113.50 L447.01,114.41 L447.42,115.33 L447.85,116.26 L448.30,117.20 L448.77,118.14 L449.26,119.09 L449.77,120.05 L450.30,121.02 L450.86,122.00 L451.44,122.99 L452.05,123.98 L452.69,124.98 L453.35,125.99 L454.05,127.01 L454.77,128.03 L455.53,129.07 L456.32,130.11 L457.15,131.15 L458.01,132.21 L458.92,133.27 L459.86,134.34 L460.85,135.42 L461.87,136.51 L462.95,137.60 L464.07,138.70 L465.24,139.81 L466.47,140.92 L467.75,142.04 L469.09,143.17 L470.48,144.31 L471.94,145.45 L473.47,146.60 L475.06,147.75 L476.72,148.91 L478.46,150.08 L480.27,151.25 L482.17,152.43 L484.15,153.61 L486.22,154.80 L488.38,156.00 L490.64,157.20 L493.00,158.41 L495.46,159.62 L498.04,160.83 L500.73,162.06 L503.54,163.28 L506.47,164.51 L509.54,165.75 L512.74,166.99 L516.08,168.23 L519.58,169.48 L523.23,170.73 L527.04,171.99 L531.03,173.25 L535.19,174.51 L539.54,175.78 L544.08,177.05 L548.82,178.32 L553.78,179.59 L558.96,180.87 L564.37,182.15 L570.02,183.43 L575.92,184.71 L582.09,186.00 L588.53,187.28 L595.26,188.57 L602.29,189.86 L609.63,191.15 L617.30,192.44 L625.31,193.74 L633.69,195.03 L642.43,196.32 L651.57,197.62 L661.11,198.91 L671.08,200.20 L681.49,201.50 L692.37,202.79 L703.74,204.08 L715.61,205.37 L728.01,206.66 L740.97,207.95 L754.50,209.24" fill="none" stroke="#d88a80" stroke-width="0.9"/>
<path d="M452.07,150.43 V116.43 M449.77,150.43 H454.37 M449.77,116.43 H454.37" stroke="#f0da98" stroke-width="0.85" fill="none"/>
<path d="M480.60,144.16 V125.15 M478.30,144.16 H482.90 M478.30,125.15 H482.90" stroke="#d8c8e0" stroke-width="0.85" fill="none"/>
<path d="M480.60,153.78 V141.93 M478.30,153.78 H482.90 M478.30,141.93 H482.90" stroke="#f0da98" stroke-width="0.85" fill="none"/>
<path d="M523.40,158.03 V142.60 M521.10,158.03 H525.70 M521.10,142.60 H525.70" stroke="#d8c8e0" stroke-width="0.85" fill="none"/>
<path d="M523.40,183.31 V164.52 M521.10,183.31 H525.70 M521.10,164.52 H525.70" stroke="#f0da98" stroke-width="0.85" fill="none"/>
<path d="M609.00,181.52 V168.77 M606.70,181.52 H611.30 M606.70,168.77 H611.30" stroke="#d8c8e0" stroke-width="0.85" fill="none"/>
<path d="M651.80,188.01 V176.38 M649.50,188.01 H654.10 M649.50,176.38 H654.10" stroke="#d8c8e0" stroke-width="0.85" fill="none"/>
<path d="M651.80,213.96 V194.72 M649.50,213.96 H654.10 M649.50,194.72 H654.10" stroke="#9aa8d8" stroke-width="0.85" fill="none"/>
<path d="M694.60,195.62 V181.08 M692.30,195.62 H696.90 M692.30,181.08 H696.90" stroke="#d8c8e0" stroke-width="0.85" fill="none"/>
<path d="M694.60,207.92 V197.85 M692.30,207.92 H696.90 M692.30,197.85 H696.90" stroke="#f0da98" stroke-width="0.85" fill="none"/>
<path d="M694.60,240.36 V232.97 M692.30,240.36 H696.90 M692.30,232.97 H696.90" stroke="#f0a0a0" stroke-width="0.85" fill="none"/>
<path d="M737.40,240.36 V230.29 M735.10,240.36 H739.70 M735.10,230.29 H739.70" stroke="#f0a0a0" stroke-width="0.85" fill="none"/>
<path d="M651.80,243.71 V238.12 M649.50,243.71 H654.10 M649.50,238.12 H654.10" stroke="#f0a0a0" stroke-width="0.85" fill="none"/>
<path d="M609.00,244.83 V239.24 M606.70,244.83 H611.30 M606.70,239.24 H611.30" stroke="#f0a0a0" stroke-width="0.85" fill="none"/>
<rect x="449.21" y="261.44" width="5.70" height="5.70" fill="#3a3a3a" stroke="#2e2e2e" stroke-width="0.5"/>
<rect x="477.75" y="256.52" width="5.70" height="5.70" fill="#3a3a3a" stroke="#2e2e2e" stroke-width="0.5"/>
<rect x="520.55" y="251.60" width="5.70" height="5.70" fill="#3a3a3a" stroke="#2e2e2e" stroke-width="0.5"/>
<rect x="563.35" y="248.47" width="5.70" height="5.70" fill="#3a3a3a" stroke="#2e2e2e" stroke-width="0.5"/>
<rect x="606.15" y="246.45" width="5.70" height="5.70" fill="#3a3a3a" stroke="#2e2e2e" stroke-width="0.5"/>
<rect x="648.95" y="243.32" width="5.70" height="5.70" fill="#3a3a3a" stroke="#2e2e2e" stroke-width="0.5"/>
<rect x="691.75" y="242.20" width="5.70" height="5.70" fill="#3a3a3a" stroke="#2e2e2e" stroke-width="0.5"/>
<rect x="734.55" y="241.08" width="5.70" height="5.70" fill="#3a3a3a" stroke="#2e2e2e" stroke-width="0.5"/>
<circle cx="452.07" cy="263.62" r="3.13" fill="#e8202a" stroke="#c81a20" stroke-width="0.5"/>
<circle cx="480.60" cy="256.24" r="3.13" fill="#e8202a" stroke="#c81a20" stroke-width="0.5"/>
<circle cx="523.40" cy="251.09" r="3.13" fill="#e8202a" stroke="#c81a20" stroke-width="0.5"/>
<circle cx="566.20" cy="245.72" r="3.13" fill="#e8202a" stroke="#c81a20" stroke-width="0.5"/>
<circle cx="609.00" cy="242.82" r="3.13" fill="#e8202a" stroke="#c81a20" stroke-width="0.5"/>
<circle cx="651.80" cy="241.25" r="3.13" fill="#e8202a" stroke="#c81a20" stroke-width="0.5"/>
<circle cx="694.60" cy="237.90" r="3.13" fill="#e8202a" stroke="#c81a20" stroke-width="0.5"/>
<circle cx="737.40" cy="237.22" r="3.13" fill="#e8202a" stroke="#c81a20" stroke-width="0.5"/>
<polygon points="452.07,247.29 455.56,253.55 448.57,253.55" fill="#2a55d0" stroke="#2448b0" stroke-width="0.5"/>
<polygon points="480.60,238.79 484.10,245.05 477.10,245.05" fill="#2a55d0" stroke="#2448b0" stroke-width="0.5"/>
<polygon points="523.40,226.49 526.90,232.75 519.90,232.75" fill="#2a55d0" stroke="#2448b0" stroke-width="0.5"/>
<polygon points="566.20,216.42 569.70,222.68 562.70,222.68" fill="#2a55d0" stroke="#2448b0" stroke-width="0.5"/>
<polygon points="609.00,211.28 612.50,217.53 605.50,217.53" fill="#2a55d0" stroke="#2448b0" stroke-width="0.5"/>
<polygon points="651.80,200.99 655.30,207.24 648.30,207.24" fill="#2a55d0" stroke="#2448b0" stroke-width="0.5"/>
<polygon points="694.60,200.32 698.10,206.57 691.10,206.57" fill="#2a55d0" stroke="#2448b0" stroke-width="0.5"/>
<polygon points="737.40,199.20 740.90,205.45 733.90,205.45" fill="#2a55d0" stroke="#2448b0" stroke-width="0.5"/>
<polygon points="437.80,262.80 441.60,269.40 434.00,269.40" fill="#348c6c" stroke="#2c6450" stroke-width="0.5"/>
<polygon points="437.80,271.60 441.60,265.00 434.00,265.00" fill="#348c6c" stroke="#2c6450" stroke-width="0.5"/>
<circle cx="437.80" cy="267.20" r="2.6" fill="#3c9070"/>
<polygon points="452.07,253.10 455.56,246.85 448.57,246.85" fill="#28a070" stroke="#208a60" stroke-width="0.5"/>
<polygon points="480.60,237.44 484.10,231.19 477.10,231.19" fill="#28a070" stroke="#208a60" stroke-width="0.5"/>
<polygon points="523.40,223.57 526.90,217.32 519.90,217.32" fill="#28a070" stroke="#208a60" stroke-width="0.5"/>
<polygon points="566.20,209.26 569.70,203.00 562.70,203.00" fill="#28a070" stroke="#208a60" stroke-width="0.5"/>
<polygon points="609.00,206.57 612.50,200.32 605.50,200.32" fill="#28a070" stroke="#208a60" stroke-width="0.5"/>
<polygon points="651.80,202.99 655.30,196.74 648.30,196.74" fill="#28a070" stroke="#208a60" stroke-width="0.5"/>
<polygon points="694.60,197.85 698.10,191.59 691.10,191.59" fill="#28a070" stroke="#208a60" stroke-width="0.5"/>
<polygon points="737.40,207.69 740.90,201.44 733.90,201.44" fill="#28a070" stroke="#208a60" stroke-width="0.5"/>
<polygon points="452.07,118.21 455.65,121.79 452.07,125.38 448.48,121.79" fill="#b070dc" stroke="#9a60c8" stroke-width="0.5"/>
<polygon points="480.60,133.64 484.19,137.23 480.60,140.82 477.01,137.23" fill="#b070dc" stroke="#9a60c8" stroke-width="0.5"/>
<polygon points="523.40,146.84 526.99,150.43 523.40,154.02 519.81,150.43" fill="#b070dc" stroke="#9a60c8" stroke-width="0.5"/>
<polygon points="566.20,156.68 569.79,160.27 566.20,163.86 562.61,160.27" fill="#b070dc" stroke="#9a60c8" stroke-width="0.5"/>
<polygon points="609.00,171.67 612.59,175.26 609.00,178.85 605.41,175.26" fill="#b070dc" stroke="#9a60c8" stroke-width="0.5"/>
<polygon points="651.80,178.61 655.39,182.19 651.80,185.78 648.21,182.19" fill="#b070dc" stroke="#9a60c8" stroke-width="0.5"/>
<polygon points="694.60,185.09 698.19,188.68 694.60,192.27 691.01,188.68" fill="#b070dc" stroke="#9a60c8" stroke-width="0.5"/>
<polygon points="737.40,191.58 740.99,195.17 737.40,198.76 733.81,195.17" fill="#b070dc" stroke="#9a60c8" stroke-width="0.5"/>
<polygon points="448.94,133.43 455.19,129.93 455.19,136.92" fill="#dc9a18" stroke="#c08410" stroke-width="0.5"/>
<polygon points="477.47,147.52 483.73,144.02 483.73,151.02" fill="#dc9a18" stroke="#c08410" stroke-width="0.5"/>
<polygon points="520.27,173.47 526.53,169.97 526.53,176.97" fill="#dc9a18" stroke="#c08410" stroke-width="0.5"/>
<polygon points="563.07,182.64 569.33,179.15 569.33,186.14" fill="#dc9a18" stroke="#c08410" stroke-width="0.5"/>
<polygon points="605.87,192.26 612.13,188.76 612.13,195.76" fill="#dc9a18" stroke="#c08410" stroke-width="0.5"/>
<polygon points="648.67,199.87 654.93,196.37 654.93,203.36" fill="#dc9a18" stroke="#c08410" stroke-width="0.5"/>
<polygon points="691.47,202.33 697.73,198.83 697.73,205.82" fill="#dc9a18" stroke="#c08410" stroke-width="0.5"/>
<polygon points="734.27,207.47 740.53,203.98 740.53,210.97" fill="#dc9a18" stroke="#c08410" stroke-width="0.5"/>
<polygon points="455.19,101.44 448.94,97.94 448.94,104.93" fill="#16c0c2" stroke="#12a8aa" stroke-width="0.5"/>
<polygon points="483.73,104.35 477.47,100.85 477.47,107.84" fill="#16c0c2" stroke="#12a8aa" stroke-width="0.5"/>
<polygon points="526.53,101.44 520.27,97.94 520.27,104.93" fill="#16c0c2" stroke="#12a8aa" stroke-width="0.5"/>
<polygon points="569.33,96.52 563.07,93.02 563.07,100.01" fill="#16c0c2" stroke="#12a8aa" stroke-width="0.5"/>
<polygon points="612.13,106.58 605.87,103.09 605.87,110.08" fill="#16c0c2" stroke="#12a8aa" stroke-width="0.5"/>
<polygon points="654.93,97.64 648.67,94.14 648.67,101.13" fill="#16c0c2" stroke="#12a8aa" stroke-width="0.5"/>
<polygon points="697.73,103.45 691.47,99.96 691.47,106.95" fill="#16c0c2" stroke="#12a8aa" stroke-width="0.5"/>
<polygon points="740.53,108.15 734.27,104.65 734.27,111.65" fill="#16c0c2" stroke="#12a8aa" stroke-width="0.5"/>
<polygon points="437.80,40.05 440.79,41.77 440.79,45.23 437.80,46.95 434.81,45.23 434.81,41.77" fill="#704040" stroke="#583030" stroke-width="0.5"/>
<polygon points="452.07,108.50 455.05,110.23 455.05,113.68 452.07,115.40 449.08,113.68 449.08,110.23" fill="#704040" stroke="#583030" stroke-width="0.5"/>
<polygon points="480.60,100.90 483.59,102.62 483.59,106.07 480.60,107.80 477.61,106.07 477.61,102.62" fill="#704040" stroke="#583030" stroke-width="0.5"/>
<polygon points="523.40,107.38 526.39,109.11 526.39,112.56 523.40,114.28 520.41,112.56 520.41,109.11" fill="#704040" stroke="#583030" stroke-width="0.5"/>
<polygon points="566.20,96.42 569.19,98.15 569.19,101.60 566.20,103.32 563.21,101.60 563.21,98.15" fill="#704040" stroke="#583030" stroke-width="0.5"/>
<polygon points="609.00,100.00 611.99,101.73 611.99,105.18 609.00,106.90 606.01,105.18 606.01,101.73" fill="#704040" stroke="#583030" stroke-width="0.5"/>
<polygon points="651.80,104.70 654.79,106.42 654.79,109.87 651.80,111.60 648.81,109.87 648.81,106.42" fill="#704040" stroke="#583030" stroke-width="0.5"/>
<polygon points="694.60,96.65 697.59,98.37 697.59,101.82 694.60,103.55 691.61,101.82 691.61,98.37" fill="#704040" stroke="#583030" stroke-width="0.5"/>
<polygon points="737.40,104.70 740.39,106.42 740.39,109.87 737.40,111.60 734.41,109.87 734.41,106.42" fill="#704040" stroke="#583030" stroke-width="0.5"/>
<g stroke="#1e1e1e" stroke-width="1.2" fill="none">
<path d="M43.4,334.7 V603.0 M41.9,603.0 H377.3"/>
<path d="M40.4,602.85 H43.4"/>
<path d="M37.9,580.50 H43.4"/>
<path d="M40.4,558.15 H43.4"/>
<path d="M37.9,535.80 H43.4"/>
<path d="M40.4,513.45 H43.4"/>
<path d="M37.9,491.10 H43.4"/>
<path d="M40.4,468.75 H43.4"/>
<path d="M37.9,446.40 H43.4"/>
<path d="M40.4,424.05 H43.4"/>
<path d="M37.9,401.70 H43.4"/>
<path d="M40.4,379.35 H43.4"/>
<path d="M37.9,357.00 H43.4"/>
<path d="M40.4,334.65 H43.4"/>
<path d="M60.80,603.0 V608.5"/>
<path d="M82.72,603.0 V606.0"/>
<path d="M104.65,603.0 V608.5"/>
<path d="M126.58,603.0 V606.0"/>
<path d="M148.50,603.0 V608.5"/>
<path d="M170.43,603.0 V606.0"/>
<path d="M192.35,603.0 V608.5"/>
<path d="M214.27,603.0 V606.0"/>
<path d="M236.20,603.0 V608.5"/>
<path d="M258.12,603.0 V606.0"/>
<path d="M280.05,603.0 V608.5"/>
<path d="M301.98,603.0 V606.0"/>
<path d="M323.90,603.0 V608.5"/>
<path d="M345.83,603.0 V606.0"/>
<path d="M367.75,603.0 V608.5"/>
</g>
<text transform="translate(34.4,585.00) scale(1,1.18)" font-size="12.5" text-anchor="end">0.0</text>
<text transform="translate(34.4,540.30) scale(1,1.18)" font-size="12.5" text-anchor="end">0.2</text>
<text transform="translate(34.4,495.60) scale(1,1.18)" font-size="12.5" text-anchor="end">0.4</text>
<text transform="translate(34.4,450.90) scale(1,1.18)" font-size="12.5" text-anchor="end">0.6</text>
<text transform="translate(34.4,406.20) scale(1,1.18)" font-size="12.5" text-anchor="end">0.8</text>
<text transform="translate(34.4,361.50) scale(1,1.18)" font-size="12.5" text-anchor="end">1.0</text>
<text transform="translate(60.80,622.60) scale(1,1.18)" font-size="12.5" text-anchor="middle">0.0</text>
<text transform="translate(104.65,622.60) scale(1,1.18)" font-size="12.5" text-anchor="middle">0.5</text>
<text transform="translate(148.50,622.60) scale(1,1.18)" font-size="12.5" text-anchor="middle">1.0</text>
<text transform="translate(192.35,622.60) scale(1,1.18)" font-size="12.5" text-anchor="middle">1.5</text>
<text transform="translate(236.20,622.60) scale(1,1.18)" font-size="12.5" text-anchor="middle">2.0</text>
<text transform="translate(280.05,622.60) scale(1,1.18)" font-size="12.5" text-anchor="middle">2.5</text>
<text transform="translate(323.90,622.60) scale(1,1.18)" font-size="12.5" text-anchor="middle">3.0</text>
<text transform="translate(367.75,622.60) scale(1,1.18)" font-size="12.5" text-anchor="middle">3.5</text>
<text x="214.27" y="636.0" font-size="13.5" text-anchor="middle">t/h</text>
<text transform="translate(10.899999999999999,468.85) rotate(-90)" font-size="14" text-anchor="middle">C<tspan font-size="9" dy="3">i</tspan><tspan dy="-3">/C</tspan><tspan font-size="9" dy="3">0,4-CQA</tspan></text>
<text x="56.199999999999996" y="341.3" font-size="15.5">(c)</text>
<text x="190.70000000000002" y="347.0" font-size="14">pH7.96</text>
<path d="M60.80,357.00 L60.80,357.73 L60.80,357.74 L60.80,357.75 L60.80,357.76 L60.80,357.77 L60.80,357.78 L60.80,357.80 L60.80,357.81 L60.80,357.82 L60.80,357.83 L60.80,357.84 L60.80,357.86 L60.80,357.87 L60.80,357.88 L60.80,357.90 L60.80,357.91 L60.80,357.92 L60.80,357.94 L60.80,357.95 L60.80,357.96 L60.80,357.98 L60.80,357.99 L60.80,358.01 L60.80,358.02 L60.80,358.04 L60.80,358.05 L60.80,358.07 L60.80,358.09 L60.80,358.10 L60.80,358.12 L60.80,358.14 L60.80,358.15 L60.80,358.17 L60.80,358.19 L60.80,358.20 L60.80,358.22 L60.80,358.24 L60.80,358.26 L60.80,358.28 L60.80,358.30 L60.80,358.32 L60.80,358.34 L60.80,358.36 L60.80,358.38 L60.80,358.40 L60.80,358.42 L60.80,358.44 L60.80,358.46 L60.80,358.48 L60.80,358.50 L60.80,358.53 L60.80,358.55 L60.80,358.57 L60.80,358.60 L60.80,358.62 L60.80,358.64 L60.80,358.67 L60.80,358.69 L60.80,358.72 L60.80,358.74 L60.80,358.77 L60.80,358.80 L60.80,358.82 L60.80,358.85 L60.80,358.88 L60.80,358.91 L60.80,358.94 L60.80,358.96 L60.80,358.99 L60.80,359.02 L60.80,359.05 L60.80,359.08 L60.80,359.11 L60.80,359.15 L60.80,359.18 L60.80,359.21 L60.80,359.24 L60.80,359.28 L60.80,359.31 L60.80,359.35 L60.80,359.38 L60.80,359.42 L60.80,359.45 L60.80,359.49 L60.80,359.53 L60.80,359.56 L60.80,359.60 L60.80,359.64 L60.80,359.68 L60.80,359.72 L60.80,359.76 L60.80,359.80 L60.80,359.84 L60.80,359.88 L60.80,359.93 L60.80,359.97 L60.80,360.01 L60.80,360.06 L60.80,360.10 L60.80,360.15 L60.80,360.20 L60.80,360.25 L60.80,360.29 L60.80,360.34 L60.80,360.39 L60.80,360.44 L60.80,360.49 L60.80,360.55 L60.80,360.60 L60.80,360.65 L60.80,360.71 L60.80,360.76 L60.80,360.82 L60.80,360.87 L60.80,360.93 L60.80,360.99 L60.80,361.05 L60.80,361.11 L60.80,361.17 L60.80,361.23 L60.80,361.29 L60.80,361.36 L60.80,361.42 L60.80,361.49 L60.80,361.55 L60.80,361.62 L60.80,361.69 L60.80,361.76 L60.80,361.83 L60.80,361.90 L60.80,361.97 L60.80,362.04 L60.80,362.12 L60.80,362.19 L60.80,362.27 L60.80,362.35 L60.80,362.43 L60.80,362.51 L60.80,362.59 L60.80,362.67 L60.80,362.76 L60.80,362.84 L60.80,362.93 L60.80,363.01 L60.80,363.10 L60.80,363.19 L60.81,363.28 L60.81,363.38 L60.81,363.47 L60.81,363.56 L60.81,363.66 L60.81,363.76 L60.81,363.86 L60.81,363.96 L60.81,364.06 L60.81,364.16 L60.81,364.27 L60.81,364.38 L60.81,364.48 L60.81,364.59 L60.81,364.71 L60.81,364.82 L60.81,364.93 L60.81,365.05 L60.81,365.17 L60.81,365.29 L60.81,365.41 L60.81,365.53 L60.81,365.66 L60.81,365.78 L60.81,365.91 L60.82,366.04 L60.82,366.17 L60.82,366.31 L60.82,366.44 L60.82,366.58 L60.82,366.72 L60.82,366.86 L60.82,367.00 L60.82,367.15 L60.82,367.30 L60.82,367.45 L60.82,367.60 L60.83,367.75 L60.83,367.91 L60.83,368.07 L60.83,368.23 L60.83,368.39 L60.83,368.56 L60.83,368.72 L60.83,368.89 L60.84,369.07 L60.84,369.24 L60.84,369.42 L60.84,369.60 L60.84,369.78 L60.85,369.96 L60.85,370.15 L60.85,370.34 L60.85,370.53 L60.85,370.73 L60.86,370.93 L60.86,371.13 L60.86,371.33 L60.86,371.53 L60.87,371.74 L60.87,371.96 L60.87,372.17 L60.88,372.39 L60.88,372.61 L60.88,372.83 L60.89,373.06 L60.89,373.29 L60.89,373.52 L60.90,373.76 L60.90,373.99 L60.91,374.24 L60.91,374.48 L60.92,374.73 L60.92,374.98 L60.93,375.24 L60.93,375.50 L60.94,375.76 L60.95,376.03 L60.95,376.30 L60.96,376.57 L60.97,376.85 L60.97,377.13 L60.98,377.41 L60.99,377.70 L61.00,377.99 L61.01,378.29 L61.02,378.59 L61.03,378.89 L61.04,379.20 L61.05,379.51 L61.06,379.82 L61.07,380.14 L61.08,380.47 L61.10,380.79 L61.11,381.13 L61.12,381.46 L61.14,381.80 L61.15,382.15 L61.17,382.50 L61.18,382.85 L61.20,383.21 L61.22,383.58 L61.24,383.94 L61.26,384.32 L61.28,384.69 L61.30,385.08 L61.32,385.46 L61.34,385.85 L61.37,386.25 L61.39,386.65 L61.42,387.06 L61.45,387.47 L61.48,387.89 L61.51,388.31 L61.54,388.74 L61.57,389.17 L61.60,389.61 L61.64,390.05 L61.68,390.50 L61.72,390.95 L61.76,391.41 L61.80,391.88 L61.85,392.35 L61.89,392.82 L61.94,393.30 L61.99,393.79 L62.04,394.28 L62.10,394.78 L62.16,395.29 L62.22,395.80 L62.28,396.32 L62.35,396.84 L62.42,397.37 L62.49,397.90 L62.56,398.44 L62.64,398.99 L62.72,399.54 L62.81,400.10 L62.90,400.67 L62.99,401.24 L63.09,401.82 L63.19,402.41 L63.30,403.00 L63.41,403.60 L63.53,404.20 L63.65,404.81 L63.78,405.43 L63.91,406.06 L64.05,406.69 L64.19,407.33 L64.34,407.97 L64.50,408.62 L64.67,409.28 L64.84,409.95 L65.02,410.62 L65.21,411.30 L65.40,411.99 L65.61,412.68 L65.82,413.39 L66.05,414.09 L66.28,414.81 L66.53,415.53 L66.78,416.26 L67.05,417.00 L67.33,417.74 L67.62,418.50 L67.92,419.26 L68.24,420.02 L68.57,420.80 L68.92,421.58 L69.28,422.37 L69.66,423.16 L70.05,423.97 L70.46,424.78 L70.89,425.60 L71.34,426.42 L71.81,427.26 L72.30,428.10 L72.82,428.94 L73.35,429.80 L73.91,430.66 L74.50,431.54 L75.11,432.41 L75.75,433.30 L76.41,434.19 L77.11,435.10 L77.83,436.00 L78.59,436.92 L79.39,437.84 L80.22,438.77 L81.08,439.71 L81.99,440.66 L82.93,441.61 L83.92,442.57 L84.95,443.54 L86.02,444.52 L87.15,445.50 L88.32,446.49 L89.55,447.49 L90.83,448.49 L92.17,449.51 L93.57,450.52 L95.03,451.55 L96.55,452.58 L98.15,453.63 L99.81,454.67 L101.55,455.73 L103.37,456.79 L105.27,457.86 L107.25,458.93 L109.32,460.02 L111.48,461.10 L113.74,462.20 L116.10,463.30 L118.57,464.41 L121.14,465.53 L123.83,466.65 L126.64,467.78 L129.58,468.91 L132.64,470.05 L135.85,471.20 L139.19,472.35 L142.69,473.51 L146.34,474.67 L150.15,475.84 L154.13,477.02 L158.29,478.20 L162.64,479.39 L167.18,480.58 L171.92,481.78 L176.87,482.98 L182.05,484.19 L187.45,485.40 L193.10,486.62 L199.00,487.84 L205.16,489.07 L211.59,490.30 L218.31,491.54 L225.34,492.78 L232.67,494.03 L240.33,495.28 L248.34,496.53 L256.70,497.79 L265.43,499.05 L274.55,500.32 L284.08,501.59 L294.03,502.86 L304.43,504.13 L315.29,505.41 L326.63,506.69 L338.48,507.98 L350.86,509.27 L363.79,510.56 L377.30,511.85" fill="none" stroke="#606060" stroke-width="0.9"/>
<path d="M60.80,357.00 L60.80,357.86 L60.80,357.87 L60.80,357.88 L60.80,357.90 L60.80,357.91 L60.80,357.92 L60.80,357.94 L60.80,357.95 L60.80,357.96 L60.80,357.98 L60.80,357.99 L60.80,358.01 L60.80,358.02 L60.80,358.04 L60.80,358.05 L60.80,358.07 L60.80,358.09 L60.80,358.10 L60.80,358.12 L60.80,358.14 L60.80,358.15 L60.80,358.17 L60.80,358.19 L60.80,358.21 L60.80,358.22 L60.80,358.24 L60.80,358.26 L60.80,358.28 L60.80,358.30 L60.80,358.32 L60.80,358.34 L60.80,358.36 L60.80,358.38 L60.80,358.40 L60.80,358.42 L60.80,358.44 L60.80,358.46 L60.80,358.48 L60.80,358.51 L60.80,358.53 L60.80,358.55 L60.80,358.57 L60.80,358.60 L60.80,358.62 L60.80,358.65 L60.80,358.67 L60.80,358.70 L60.80,358.72 L60.80,358.75 L60.80,358.77 L60.80,358.80 L60.80,358.83 L60.80,358.85 L60.80,358.88 L60.80,358.91 L60.80,358.94 L60.80,358.97 L60.80,359.00 L60.80,359.03 L60.80,359.06 L60.80,359.09 L60.80,359.12 L60.80,359.15 L60.80,359.18 L60.80,359.21 L60.80,359.25 L60.80,359.28 L60.80,359.31 L60.80,359.35 L60.80,359.38 L60.80,359.42 L60.80,359.45 L60.80,359.49 L60.80,359.53 L60.80,359.57 L60.80,359.60 L60.80,359.64 L60.80,359.68 L60.80,359.72 L60.80,359.76 L60.80,359.80 L60.80,359.85 L60.80,359.89 L60.80,359.93 L60.80,359.97 L60.80,360.02 L60.80,360.06 L60.80,360.11 L60.80,360.16 L60.80,360.20 L60.80,360.25 L60.80,360.30 L60.80,360.35 L60.80,360.40 L60.80,360.45 L60.80,360.50 L60.80,360.55 L60.80,360.60 L60.80,360.66 L60.80,360.71 L60.80,360.77 L60.80,360.82 L60.80,360.88 L60.80,360.94 L60.80,360.99 L60.80,361.05 L60.80,361.11 L60.80,361.17 L60.80,361.24 L60.80,361.30 L60.80,361.36 L60.80,361.43 L60.80,361.49 L60.80,361.56 L60.80,361.63 L60.80,361.70 L60.80,361.77 L60.80,361.84 L60.80,361.91 L60.80,361.98 L60.80,362.05 L60.80,362.13 L60.80,362.20 L60.80,362.28 L60.80,362.36 L60.80,362.44 L60.80,362.52 L60.80,362.60 L60.80,362.68 L60.80,362.77 L60.80,362.85 L60.80,362.94 L60.80,363.02 L60.80,363.11 L60.80,363.20 L60.80,363.29 L60.80,363.39 L60.80,363.48 L60.80,363.58 L60.80,363.67 L60.80,363.77 L60.80,363.87 L60.80,363.97 L60.80,364.07 L60.80,364.18 L60.80,364.28 L60.81,364.39 L60.81,364.50 L60.81,364.61 L60.81,364.72 L60.81,364.83 L60.81,364.95 L60.81,365.06 L60.81,365.18 L60.81,365.30 L60.81,365.42 L60.81,365.54 L60.81,365.67 L60.81,365.80 L60.81,365.92 L60.81,366.05 L60.81,366.19 L60.81,366.32 L60.81,366.46 L60.81,366.59 L60.81,366.73 L60.81,366.88 L60.81,367.02 L60.81,367.16 L60.81,367.31 L60.81,367.46 L60.82,367.61 L60.82,367.77 L60.82,367.92 L60.82,368.08 L60.82,368.24 L60.82,368.41 L60.82,368.57 L60.82,368.74 L60.82,368.91 L60.82,369.08 L60.82,369.25 L60.82,369.43 L60.83,369.61 L60.83,369.79 L60.83,369.98 L60.83,370.16 L60.83,370.35 L60.83,370.54 L60.83,370.74 L60.83,370.94 L60.84,371.14 L60.84,371.34 L60.84,371.54 L60.84,371.75 L60.84,371.96 L60.85,372.18 L60.85,372.39 L60.85,372.61 L60.85,372.84 L60.85,373.06 L60.86,373.29 L60.86,373.52 L60.86,373.76 L60.86,374.00 L60.87,374.24 L60.87,374.48 L60.87,374.73 L60.88,374.98 L60.88,375.24 L60.88,375.49 L60.89,375.76 L60.89,376.02 L60.89,376.29 L60.90,376.56 L60.90,376.84 L60.91,377.12 L60.91,377.40 L60.92,377.69 L60.92,377.98 L60.93,378.27 L60.93,378.57 L60.94,378.87 L60.95,379.17 L60.95,379.48 L60.96,379.80 L60.97,380.11 L60.97,380.44 L60.98,380.76 L60.99,381.09 L61.00,381.43 L61.01,381.76 L61.02,382.11 L61.03,382.45 L61.04,382.81 L61.05,383.16 L61.06,383.52 L61.07,383.89 L61.08,384.26 L61.10,384.63 L61.11,385.01 L61.12,385.39 L61.14,385.78 L61.15,386.17 L61.17,386.57 L61.18,386.97 L61.20,387.38 L61.22,387.79 L61.24,388.21 L61.26,388.63 L61.28,389.06 L61.30,389.49 L61.32,389.93 L61.34,390.37 L61.37,390.82 L61.39,391.27 L61.42,391.73 L61.45,392.19 L61.48,392.66 L61.51,393.14 L61.54,393.62 L61.57,394.11 L61.60,394.60 L61.64,395.09 L61.68,395.60 L61.72,396.11 L61.76,396.62 L61.80,397.14 L61.85,397.67 L61.89,398.20 L61.94,398.74 L61.99,399.28 L62.04,399.83 L62.10,400.39 L62.16,400.95 L62.22,401.52 L62.28,402.09 L62.35,402.67 L62.42,403.26 L62.49,403.85 L62.56,404.45 L62.64,405.05 L62.72,405.67 L62.81,406.28 L62.90,406.91 L62.99,407.54 L63.09,408.18 L63.19,408.82 L63.30,409.47 L63.41,410.13 L63.53,410.79 L63.65,411.46 L63.78,412.14 L63.91,412.82 L64.05,413.51 L64.19,414.21 L64.34,414.91 L64.50,415.62 L64.67,416.34 L64.84,417.06 L65.02,417.79 L65.21,418.53 L65.40,419.28 L65.61,420.03 L65.82,420.78 L66.05,421.55 L66.28,422.32 L66.53,423.10 L66.78,423.88 L67.05,424.68 L67.33,425.47 L67.62,426.28 L67.92,427.09 L68.24,427.91 L68.57,428.74 L68.92,429.57 L69.28,430.41 L69.66,431.26 L70.05,432.11 L70.46,432.97 L70.89,433.84 L71.34,434.71 L71.81,435.59 L72.30,436.48 L72.82,437.37 L73.35,438.27 L73.91,439.18 L74.50,440.09 L75.11,441.01 L75.75,441.94 L76.41,442.87 L77.11,443.81 L77.83,444.76 L78.59,445.71 L79.39,446.67 L80.22,447.63 L81.08,448.61 L81.99,449.58 L82.93,450.57 L83.92,451.56 L84.95,452.55 L86.02,453.56 L87.15,454.56 L88.32,455.58 L89.55,456.60 L90.83,457.62 L92.17,458.65 L93.57,459.69 L95.03,460.73 L96.55,461.78 L98.15,462.83 L99.81,463.89 L101.55,464.95 L103.37,466.02 L105.27,467.10 L107.25,468.18 L109.32,469.26 L111.48,470.35 L113.74,471.44 L116.10,472.54 L118.57,473.64 L121.14,474.75 L123.83,475.86 L126.64,476.98 L129.58,478.10 L132.64,479.22 L135.85,480.35 L139.19,481.48 L142.69,482.62 L146.34,483.76 L150.15,484.90 L154.13,486.05 L158.29,487.20 L162.64,488.35 L167.18,489.50 L171.92,490.66 L176.87,491.83 L182.05,492.99 L187.45,494.16 L193.10,495.33 L199.00,496.50 L205.16,497.67 L211.59,498.85 L218.31,500.03 L225.34,501.21 L232.67,502.39 L240.33,503.57 L248.34,504.76 L256.70,505.94 L265.43,507.13 L274.55,508.32 L284.08,509.51 L294.03,510.70 L304.43,511.89 L315.29,513.08 L326.63,514.28 L338.48,515.47 L350.86,516.66 L363.79,517.86 L377.30,519.05" fill="none" stroke="#d88a80" stroke-width="0.9"/>
<path d="M75.42,451.09 V430.75 M73.12,451.09 H77.72 M73.12,430.75 H77.72" stroke="#f0da98" stroke-width="0.85" fill="none"/>
<path d="M104.65,470.76 V464.28 M102.35,470.76 H106.95 M102.35,464.28 H106.95" stroke="#f0da98" stroke-width="0.85" fill="none"/>
<path d="M148.50,479.93 V446.18 M146.20,479.93 H150.80 M146.20,446.18 H150.80" stroke="#d8c8e0" stroke-width="0.85" fill="none"/>
<path d="M192.35,495.57 V468.75 M190.05,495.57 H194.65 M190.05,468.75 H194.65" stroke="#d8c8e0" stroke-width="0.85" fill="none"/>
<path d="M192.35,508.98 V493.33 M190.05,508.98 H194.65 M190.05,493.33 H194.65" stroke="#f0da98" stroke-width="0.85" fill="none"/>
<path d="M236.20,497.81 V486.63 M233.90,497.81 H238.50 M233.90,486.63 H238.50" stroke="#d8c8e0" stroke-width="0.85" fill="none"/>
<path d="M323.90,513.45 V497.81 M321.60,513.45 H326.20 M321.60,497.81 H326.20" stroke="#d8c8e0" stroke-width="0.85" fill="none"/>
<path d="M367.75,515.68 V504.51 M365.45,515.68 H370.05 M365.45,504.51 H370.05" stroke="#d8c8e0" stroke-width="0.85" fill="none"/>
<path d="M148.50,535.80 V521.05 M146.20,535.80 H150.80 M146.20,521.05 H150.80" stroke="#a8d8c0" stroke-width="0.85" fill="none"/>
<path d="M148.50,541.39 V533.57 M146.20,541.39 H150.80 M146.20,533.57 H150.80" stroke="#9aa8d8" stroke-width="0.85" fill="none"/>
<path d="M323.90,523.51 V513.45 M321.60,523.51 H326.20 M321.60,513.45 H326.20" stroke="#9aa8d8" stroke-width="0.85" fill="none"/>
<path d="M75.42,571.56 V563.74 M73.12,571.56 H77.72 M73.12,563.74 H77.72" stroke="#a8d8c0" stroke-width="0.85" fill="none"/>
<rect x="72.56" y="574.30" width="5.70" height="5.70" fill="#3a3a3a" stroke="#2e2e2e" stroke-width="0.5"/>
<rect x="101.80" y="569.15" width="5.70" height="5.70" fill="#3a3a3a" stroke="#2e2e2e" stroke-width="0.5"/>
<rect x="145.65" y="562.23" width="5.70" height="5.70" fill="#3a3a3a" stroke="#2e2e2e" stroke-width="0.5"/>
<rect x="189.50" y="558.65" width="5.70" height="5.70" fill="#3a3a3a" stroke="#2e2e2e" stroke-width="0.5"/>
<rect x="233.35" y="554.85" width="5.70" height="5.70" fill="#3a3a3a" stroke="#2e2e2e" stroke-width="0.5"/>
<rect x="277.20" y="551.72" width="5.70" height="5.70" fill="#3a3a3a" stroke="#2e2e2e" stroke-width="0.5"/>
<rect x="321.05" y="548.15" width="5.70" height="5.70" fill="#3a3a3a" stroke="#2e2e2e" stroke-width="0.5"/>
<rect x="364.90" y="546.58" width="5.70" height="5.70" fill="#3a3a3a" stroke="#2e2e2e" stroke-width="0.5"/>
<circle cx="75.42" cy="576.25" r="3.13" fill="#e8202a" stroke="#c81a20" stroke-width="0.5"/>
<circle cx="104.65" cy="569.10" r="3.13" fill="#e8202a" stroke="#c81a20" stroke-width="0.5"/>
<circle cx="148.50" cy="559.49" r="3.13" fill="#e8202a" stroke="#c81a20" stroke-width="0.5"/>
<circle cx="192.35" cy="555.47" r="3.13" fill="#e8202a" stroke="#c81a20" stroke-width="0.5"/>
<circle cx="236.20" cy="551.00" r="3.13" fill="#e8202a" stroke="#c81a20" stroke-width="0.5"/>
<circle cx="280.05" cy="548.09" r="3.13" fill="#e8202a" stroke="#c81a20" stroke-width="0.5"/>
<circle cx="323.90" cy="541.83" r="3.13" fill="#e8202a" stroke="#c81a20" stroke-width="0.5"/>
<circle cx="367.75" cy="540.49" r="3.13" fill="#e8202a" stroke="#c81a20" stroke-width="0.5"/>
<polygon points="75.42,567.99 78.91,574.24 71.92,574.24" fill="#2a55d0" stroke="#2448b0" stroke-width="0.5"/>
<polygon points="104.65,551.22 108.15,557.48 101.15,557.48" fill="#2a55d0" stroke="#2448b0" stroke-width="0.5"/>
<polygon points="148.50,534.01 152.00,540.27 145.00,540.27" fill="#2a55d0" stroke="#2448b0" stroke-width="0.5"/>
<polygon points="192.35,527.31 195.85,533.56 188.85,533.56" fill="#2a55d0" stroke="#2448b0" stroke-width="0.5"/>
<polygon points="236.20,521.72 239.70,527.98 232.70,527.98" fill="#2a55d0" stroke="#2448b0" stroke-width="0.5"/>
<polygon points="280.05,519.26 283.55,525.52 276.55,525.52" fill="#2a55d0" stroke="#2448b0" stroke-width="0.5"/>
<polygon points="323.90,515.24 327.40,521.50 320.40,521.50" fill="#2a55d0" stroke="#2448b0" stroke-width="0.5"/>
<polygon points="367.75,517.92 371.25,524.18 364.25,524.18" fill="#2a55d0" stroke="#2448b0" stroke-width="0.5"/>
<polygon points="60.80,576.10 64.60,582.70 57.00,582.70" fill="#348c6c" stroke="#2c6450" stroke-width="0.5"/>
<polygon points="60.80,584.90 64.60,578.30 57.00,578.30" fill="#348c6c" stroke="#2c6450" stroke-width="0.5"/>
<circle cx="60.80" cy="580.50" r="2.6" fill="#3c9070"/>
<polygon points="75.42,570.44 78.91,564.19 71.92,564.19" fill="#28a070" stroke="#208a60" stroke-width="0.5"/>
<polygon points="104.65,551.44 108.15,545.19 101.15,545.19" fill="#28a070" stroke="#208a60" stroke-width="0.5"/>
<polygon points="148.50,532.00 152.00,525.74 145.00,525.74" fill="#28a070" stroke="#208a60" stroke-width="0.5"/>
<polygon points="192.35,526.41 195.85,520.16 188.85,520.16" fill="#28a070" stroke="#208a60" stroke-width="0.5"/>
<polygon points="236.20,524.18 239.70,517.92 232.70,517.92" fill="#28a070" stroke="#208a60" stroke-width="0.5"/>
<polygon points="280.05,525.07 283.55,518.81 276.55,518.81" fill="#28a070" stroke="#208a60" stroke-width="0.5"/>
<polygon points="323.90,521.05 327.40,514.79 320.40,514.79" fill="#28a070" stroke="#208a60" stroke-width="0.5"/>
<polygon points="367.75,522.17 371.25,515.91 364.25,515.91" fill="#28a070" stroke="#208a60" stroke-width="0.5"/>
<polygon points="75.42,429.40 79.00,432.99 75.42,436.58 71.83,432.99" fill="#b070dc" stroke="#9a60c8" stroke-width="0.5"/>
<polygon points="104.65,448.62 108.24,452.21 104.65,455.80 101.06,452.21" fill="#b070dc" stroke="#9a60c8" stroke-width="0.5"/>
<polygon points="148.50,461.59 152.09,465.17 148.50,468.76 144.91,465.17" fill="#b070dc" stroke="#9a60c8" stroke-width="0.5"/>
<polygon points="192.35,480.81 195.94,484.39 192.35,487.98 188.76,484.39" fill="#b070dc" stroke="#9a60c8" stroke-width="0.5"/>
<polygon points="236.20,489.08 239.79,492.66 236.20,496.25 232.61,492.66" fill="#b070dc" stroke="#9a60c8" stroke-width="0.5"/>
<polygon points="280.05,498.02 283.64,501.60 280.05,505.19 276.46,501.60" fill="#b070dc" stroke="#9a60c8" stroke-width="0.5"/>
<polygon points="323.90,502.26 327.49,505.85 323.90,509.44 320.31,505.85" fill="#b070dc" stroke="#9a60c8" stroke-width="0.5"/>
<polygon points="367.75,506.73 371.34,510.32 367.75,513.91 364.16,510.32" fill="#b070dc" stroke="#9a60c8" stroke-width="0.5"/>
<polygon points="72.29,441.04 78.54,437.54 78.54,444.53" fill="#dc9a18" stroke="#c08410" stroke-width="0.5"/>
<polygon points="101.52,464.28 107.78,460.78 107.78,467.78" fill="#dc9a18" stroke="#c08410" stroke-width="0.5"/>
<polygon points="145.37,483.50 151.63,480.00 151.63,487.00" fill="#dc9a18" stroke="#c08410" stroke-width="0.5"/>
<polygon points="189.22,500.71 195.48,497.21 195.48,504.21" fill="#dc9a18" stroke="#c08410" stroke-width="0.5"/>
<polygon points="233.07,506.30 239.33,502.80 239.33,509.79" fill="#dc9a18" stroke="#c08410" stroke-width="0.5"/>
<polygon points="276.92,513.00 283.18,509.51 283.18,516.50" fill="#dc9a18" stroke="#c08410" stroke-width="0.5"/>
<polygon points="320.77,514.34 327.03,510.85 327.03,517.84" fill="#dc9a18" stroke="#c08410" stroke-width="0.5"/>
<polygon points="364.62,518.37 370.88,514.87 370.88,521.86" fill="#dc9a18" stroke="#c08410" stroke-width="0.5"/>
<polygon points="78.54,418.91 72.29,415.41 72.29,422.41" fill="#16c0c2" stroke="#12a8aa" stroke-width="0.5"/>
<polygon points="107.78,418.46 101.52,414.97 101.52,421.96" fill="#16c0c2" stroke="#12a8aa" stroke-width="0.5"/>
<polygon points="151.63,405.95 145.37,402.45 145.37,409.44" fill="#16c0c2" stroke="#12a8aa" stroke-width="0.5"/>
<polygon points="195.48,414.22 189.22,410.72 189.22,417.71" fill="#16c0c2" stroke="#12a8aa" stroke-width="0.5"/>
<polygon points="239.33,412.20 233.07,408.71 233.07,415.70" fill="#16c0c2" stroke="#12a8aa" stroke-width="0.5"/>
<polygon points="283.18,418.46 276.92,414.97 276.92,421.96" fill="#16c0c2" stroke="#12a8aa" stroke-width="0.5"/>
<polygon points="327.03,416.45 320.77,412.96 320.77,419.95" fill="#16c0c2" stroke="#12a8aa" stroke-width="0.5"/>
<polygon points="370.88,419.58 364.62,416.08 364.62,423.08" fill="#16c0c2" stroke="#12a8aa" stroke-width="0.5"/>
<polygon points="60.80,353.55 63.79,355.27 63.79,358.73 60.80,360.45 57.81,358.73 57.81,355.27" fill="#704040" stroke="#583030" stroke-width="0.5"/>
<polygon points="75.42,420.82 78.40,422.55 78.40,426.00 75.42,427.72 72.43,426.00 72.43,422.55" fill="#704040" stroke="#583030" stroke-width="0.5"/>
<polygon points="104.65,417.92 107.64,419.64 107.64,423.09 104.65,424.82 101.66,423.09 101.66,419.64" fill="#704040" stroke="#583030" stroke-width="0.5"/>
<polygon points="148.50,408.53 151.49,410.26 151.49,413.71 148.50,415.43 145.51,413.71 145.51,410.26" fill="#704040" stroke="#583030" stroke-width="0.5"/>
<polygon points="192.35,415.68 195.34,417.41 195.34,420.86 192.35,422.58 189.36,420.86 189.36,417.41" fill="#704040" stroke="#583030" stroke-width="0.5"/>
<polygon points="236.20,413.00 239.19,414.73 239.19,418.18 236.20,419.90 233.21,418.18 233.21,414.73" fill="#704040" stroke="#583030" stroke-width="0.5"/>
<polygon points="280.05,418.81 283.04,420.54 283.04,423.99 280.05,425.71 277.06,423.99 277.06,420.54" fill="#704040" stroke="#583030" stroke-width="0.5"/>
<polygon points="323.90,408.75 326.89,410.48 326.89,413.93 323.90,415.65 320.91,413.93 320.91,410.48" fill="#704040" stroke="#583030" stroke-width="0.5"/>
<polygon points="367.75,413.00 370.74,414.73 370.74,418.18 367.75,419.90 364.76,418.18 364.76,414.73" fill="#704040" stroke="#583030" stroke-width="0.5"/>
<g stroke="#1e1e1e" stroke-width="1.2" fill="none">
<path d="M421.5,334.6 V602.7 M420.0,602.7 H757"/>
<path d="M418.5,602.91 H421.5"/>
<path d="M416.0,580.50 H421.5"/>
<path d="M418.5,558.09 H421.5"/>
<path d="M416.0,535.68 H421.5"/>
<path d="M418.5,513.27 H421.5"/>
<path d="M416.0,490.86 H421.5"/>
<path d="M418.5,468.45 H421.5"/>
<path d="M416.0,446.04 H421.5"/>
<path d="M418.5,423.63 H421.5"/>
<path d="M416.0,401.22 H421.5"/>
<path d="M418.5,378.81 H421.5"/>
<path d="M416.0,356.40 H421.5"/>
<path d="M439.00,602.7 V608.2"/>
<path d="M460.98,602.7 V605.7"/>
<path d="M482.95,602.7 V608.2"/>
<path d="M504.93,602.7 V605.7"/>
<path d="M526.90,602.7 V608.2"/>
<path d="M548.88,602.7 V605.7"/>
<path d="M570.85,602.7 V608.2"/>
<path d="M592.83,602.7 V605.7"/>
<path d="M614.80,602.7 V608.2"/>
<path d="M636.77,602.7 V605.7"/>
<path d="M658.75,602.7 V608.2"/>
<path d="M680.73,602.7 V605.7"/>
<path d="M702.70,602.7 V608.2"/>
<path d="M724.67,602.7 V605.7"/>
<path d="M746.65,602.7 V608.2"/>
</g>
<text transform="translate(412.5,585.00) scale(1,1.18)" font-size="12.5" text-anchor="end">0.0</text>
<text transform="translate(412.5,540.18) scale(1,1.18)" font-size="12.5" text-anchor="end">0.2</text>
<text transform="translate(412.5,495.36) scale(1,1.18)" font-size="12.5" text-anchor="end">0.4</text>
<text transform="translate(412.5,450.54) scale(1,1.18)" font-size="12.5" text-anchor="end">0.6</text>
<text transform="translate(412.5,405.72) scale(1,1.18)" font-size="12.5" text-anchor="end">0.8</text>
<text transform="translate(412.5,360.90) scale(1,1.18)" font-size="12.5" text-anchor="end">1.0</text>
<text transform="translate(439.00,622.30) scale(1,1.18)" font-size="12.5" text-anchor="middle">0.0</text>
<text transform="translate(482.95,622.30) scale(1,1.18)" font-size="12.5" text-anchor="middle">0.5</text>
<text transform="translate(526.90,622.30) scale(1,1.18)" font-size="12.5" text-anchor="middle">1.0</text>
<text transform="translate(570.85,622.30) scale(1,1.18)" font-size="12.5" text-anchor="middle">1.5</text>
<text transform="translate(614.80,622.30) scale(1,1.18)" font-size="12.5" text-anchor="middle">2.0</text>
<text transform="translate(658.75,622.30) scale(1,1.18)" font-size="12.5" text-anchor="middle">2.5</text>
<text transform="translate(702.70,622.30) scale(1,1.18)" font-size="12.5" text-anchor="middle">3.0</text>
<text transform="translate(746.65,622.30) scale(1,1.18)" font-size="12.5" text-anchor="middle">3.5</text>
<text x="592.83" y="635.7" font-size="13.5" text-anchor="middle">t/h</text>
<text transform="translate(389.0,468.65000000000003) rotate(-90)" font-size="14" text-anchor="middle">C<tspan font-size="9" dy="3">i</tspan><tspan dy="-3">/C</tspan><tspan font-size="9" dy="3">0,4-CQA</tspan></text>
<text x="434.3" y="341.20000000000005" font-size="15.5">(d)</text>
<text x="569.6" y="346.90000000000003" font-size="14">pH9.22</text>
<path d="M439.00,356.40 L439.00,356.60 L439.00,356.60 L439.00,356.61 L439.00,356.61 L439.00,356.62 L439.00,356.62 L439.00,356.63 L439.00,356.63 L439.00,356.64 L439.00,356.65 L439.00,356.65 L439.00,356.66 L439.00,356.66 L439.00,356.67 L439.00,356.68 L439.00,356.68 L439.00,356.69 L439.00,356.70 L439.00,356.70 L439.00,356.71 L439.00,356.72 L439.00,356.73 L439.00,356.73 L439.00,356.74 L439.00,356.75 L439.00,356.76 L439.00,356.77 L439.00,356.77 L439.00,356.78 L439.00,356.79 L439.00,356.80 L439.00,356.81 L439.00,356.82 L439.00,356.83 L439.00,356.84 L439.00,356.85 L439.00,356.86 L439.00,356.87 L439.00,356.89 L439.00,356.90 L439.00,356.91 L439.00,356.92 L439.00,356.93 L439.00,356.95 L439.00,356.96 L439.00,356.97 L439.00,356.99 L439.00,357.00 L439.00,357.01 L439.00,357.03 L439.00,357.04 L439.00,357.06 L439.00,357.08 L439.00,357.09 L439.00,357.11 L439.00,357.13 L439.00,357.14 L439.00,357.16 L439.00,357.18 L439.00,357.20 L439.00,357.22 L439.00,357.24 L439.00,357.26 L439.00,357.28 L439.00,357.30 L439.00,357.32 L439.00,357.34 L439.00,357.36 L439.00,357.38 L439.00,357.41 L439.00,357.43 L439.00,357.46 L439.00,357.48 L439.00,357.51 L439.00,357.53 L439.00,357.56 L439.00,357.59 L439.00,357.62 L439.00,357.65 L439.00,357.68 L439.00,357.71 L439.00,357.74 L439.00,357.77 L439.00,357.80 L439.00,357.83 L439.00,357.87 L439.00,357.90 L439.00,357.94 L439.00,357.98 L439.00,358.01 L439.00,358.05 L439.00,358.09 L439.00,358.13 L439.00,358.17 L439.00,358.21 L439.00,358.26 L439.00,358.30 L439.00,358.35 L439.00,358.39 L439.00,358.44 L439.00,358.49 L439.00,358.54 L439.00,358.59 L439.00,358.64 L439.00,358.69 L439.00,358.75 L439.00,358.80 L439.00,358.86 L439.00,358.92 L439.00,358.98 L439.00,359.04 L439.00,359.10 L439.00,359.16 L439.00,359.23 L439.00,359.30 L439.00,359.36 L439.00,359.43 L439.00,359.50 L439.00,359.58 L439.00,359.65 L439.00,359.73 L439.00,359.81 L439.00,359.89 L439.00,359.97 L439.00,360.05 L439.00,360.14 L439.00,360.23 L439.00,360.32 L439.00,360.41 L439.00,360.50 L439.00,360.60 L439.00,360.70 L439.00,360.80 L439.00,360.90 L439.00,361.01 L439.00,361.12 L439.00,361.23 L439.00,361.34 L439.00,361.46 L439.00,361.57 L439.00,361.70 L439.00,361.82 L439.00,361.95 L439.00,362.08 L439.00,362.21 L439.00,362.34 L439.01,362.48 L439.01,362.62 L439.01,362.77 L439.01,362.92 L439.01,363.07 L439.01,363.22 L439.01,363.38 L439.01,363.54 L439.01,363.71 L439.01,363.88 L439.01,364.05 L439.01,364.23 L439.01,364.41 L439.01,364.59 L439.01,364.78 L439.01,364.97 L439.01,365.17 L439.01,365.37 L439.01,365.58 L439.01,365.79 L439.01,366.01 L439.01,366.23 L439.01,366.45 L439.01,366.68 L439.01,366.92 L439.02,367.16 L439.02,367.40 L439.02,367.65 L439.02,367.91 L439.02,368.17 L439.02,368.44 L439.02,368.71 L439.02,368.99 L439.02,369.27 L439.02,369.56 L439.02,369.86 L439.02,370.16 L439.03,370.47 L439.03,370.79 L439.03,371.11 L439.03,371.44 L439.03,371.78 L439.03,372.12 L439.03,372.47 L439.03,372.83 L439.04,373.20 L439.04,373.57 L439.04,373.95 L439.04,374.34 L439.04,374.73 L439.05,375.14 L439.05,375.55 L439.05,375.97 L439.05,376.40 L439.05,376.83 L439.06,377.28 L439.06,377.73 L439.06,378.20 L439.06,378.67 L439.07,379.15 L439.07,379.64 L439.07,380.14 L439.08,380.65 L439.08,381.17 L439.08,381.70 L439.09,382.24 L439.09,382.79 L439.10,383.35 L439.10,383.92 L439.10,384.50 L439.11,385.10 L439.11,385.70 L439.12,386.31 L439.12,386.93 L439.13,387.57 L439.14,388.21 L439.14,388.87 L439.15,389.54 L439.15,390.22 L439.16,390.91 L439.17,391.62 L439.18,392.33 L439.18,393.06 L439.19,393.80 L439.20,394.55 L439.21,395.31 L439.22,396.09 L439.23,396.88 L439.24,397.68 L439.25,398.49 L439.26,399.32 L439.27,400.16 L439.28,401.01 L439.30,401.87 L439.31,402.75 L439.32,403.64 L439.34,404.54 L439.35,405.46 L439.37,406.38 L439.38,407.33 L439.40,408.28 L439.42,409.25 L439.44,410.23 L439.46,411.22 L439.48,412.22 L439.50,413.24 L439.52,414.27 L439.55,415.31 L439.57,416.37 L439.60,417.44 L439.62,418.52 L439.65,419.61 L439.68,420.72 L439.71,421.84 L439.74,422.97 L439.77,424.11 L439.81,425.26 L439.84,426.43 L439.88,427.60 L439.92,428.79 L439.96,429.99 L440.00,431.20 L440.05,432.42 L440.10,433.65 L440.14,434.89 L440.20,436.15 L440.25,437.41 L440.30,438.68 L440.36,439.96 L440.42,441.25 L440.49,442.55 L440.55,443.86 L440.62,445.17 L440.70,446.50 L440.77,447.83 L440.85,449.17 L440.93,450.52 L441.02,451.87 L441.11,453.23 L441.20,454.60 L441.30,455.97 L441.40,457.35 L441.51,458.73 L441.62,460.12 L441.74,461.51 L441.86,462.91 L441.99,464.31 L442.12,465.71 L442.26,467.12 L442.41,468.53 L442.56,469.94 L442.72,471.35 L442.88,472.76 L443.06,474.18 L443.24,475.59 L443.43,477.01 L443.62,478.42 L443.83,479.84 L444.04,481.25 L444.27,482.67 L444.50,484.08 L444.75,485.49 L445.01,486.89 L445.27,488.30 L445.55,489.69 L445.85,491.09 L446.15,492.48 L446.47,493.87 L446.80,495.25 L447.15,496.63 L447.51,498.00 L447.89,499.37 L448.29,500.73 L448.70,502.08 L449.14,503.43 L449.59,504.77 L450.06,506.10 L450.55,507.43 L451.07,508.74 L451.61,510.05 L452.17,511.35 L452.76,512.64 L453.37,513.92 L454.01,515.19 L454.68,516.45 L455.38,517.71 L456.11,518.95 L456.87,520.18 L457.67,521.40 L458.50,522.61 L459.37,523.81 L460.28,525.00 L461.23,526.17 L462.22,527.34 L463.25,528.49 L464.33,529.63 L465.46,530.76 L466.64,531.88 L467.88,532.98 L469.16,534.08 L470.51,535.16 L471.91,536.23 L473.38,537.28 L474.91,538.32 L476.51,539.35 L478.19,540.37 L479.93,541.38 L481.76,542.37 L483.67,543.35 L485.66,544.32 L487.74,545.27 L489.91,546.21 L492.18,547.14 L494.55,548.05 L497.03,548.95 L499.61,549.84 L502.32,550.72 L505.14,551.58 L508.09,552.43 L511.17,553.27 L514.39,554.10 L517.75,554.91 L521.26,555.71 L524.93,556.50 L528.76,557.28 L532.76,558.04 L536.94,558.79 L541.31,559.53 L545.87,560.26 L550.63,560.97 L555.61,561.68 L560.81,562.37 L566.24,563.05 L571.91,563.72 L577.84,564.37 L584.03,565.02 L590.49,565.65 L597.25,566.28 L604.30,566.89 L611.67,567.49 L619.37,568.08 L627.41,568.66 L635.81,569.23 L644.59,569.79 L653.75,570.34 L663.33,570.88 L673.33,571.41 L683.77,571.93 L694.69,572.44 L706.09,572.94 L718.00,573.43 L730.43,573.91 L743.43,574.39 L757.00,574.85" fill="none" stroke="#606060" stroke-width="0.9"/>
<path d="M439.00,356.40 L439.00,358.85 L439.00,358.89 L439.00,358.93 L439.00,358.97 L439.00,359.01 L439.00,359.05 L439.00,359.09 L439.00,359.14 L439.00,359.18 L439.00,359.22 L439.00,359.27 L439.00,359.32 L439.00,359.36 L439.00,359.41 L439.00,359.46 L439.00,359.50 L439.00,359.55 L439.00,359.60 L439.00,359.65 L439.00,359.71 L439.00,359.76 L439.00,359.81 L439.00,359.87 L439.00,359.92 L439.00,359.98 L439.00,360.03 L439.00,360.09 L439.00,360.15 L439.00,360.21 L439.00,360.27 L439.00,360.33 L439.00,360.39 L439.00,360.46 L439.00,360.52 L439.00,360.59 L439.00,360.65 L439.00,360.72 L439.00,360.79 L439.00,360.86 L439.00,360.93 L439.00,361.00 L439.00,361.07 L439.00,361.14 L439.00,361.22 L439.00,361.29 L439.00,361.37 L439.00,361.45 L439.00,361.53 L439.00,361.61 L439.00,361.69 L439.00,361.78 L439.00,361.86 L439.00,361.95 L439.00,362.03 L439.00,362.12 L439.00,362.21 L439.00,362.30 L439.00,362.40 L439.00,362.49 L439.00,362.59 L439.00,362.68 L439.00,362.78 L439.00,362.88 L439.00,362.98 L439.00,363.09 L439.00,363.19 L439.00,363.30 L439.00,363.40 L439.00,363.51 L439.00,363.63 L439.00,363.74 L439.00,363.85 L439.00,363.97 L439.00,364.09 L439.00,364.21 L439.00,364.33 L439.00,364.45 L439.00,364.58 L439.00,364.70 L439.00,364.83 L439.00,364.96 L439.00,365.10 L439.00,365.23 L439.00,365.37 L439.00,365.51 L439.00,365.65 L439.00,365.79 L439.00,365.94 L439.00,366.09 L439.00,366.24 L439.00,366.39 L439.00,366.54 L439.00,366.70 L439.00,366.86 L439.00,367.02 L439.00,367.18 L439.00,367.35 L439.00,367.52 L439.00,367.69 L439.00,367.86 L439.00,368.04 L439.00,368.21 L439.00,368.40 L439.00,368.58 L439.00,368.77 L439.00,368.95 L439.00,369.15 L439.00,369.34 L439.00,369.54 L439.00,369.74 L439.00,369.94 L439.00,370.15 L439.00,370.36 L439.00,370.57 L439.00,370.78 L439.00,371.00 L439.00,371.22 L439.00,371.45 L439.00,371.68 L439.00,371.91 L439.00,372.14 L439.00,372.38 L439.00,372.62 L439.00,372.86 L439.00,373.11 L439.00,373.36 L439.00,373.62 L439.00,373.87 L439.00,374.14 L439.00,374.40 L439.00,374.67 L439.00,374.94 L439.00,375.22 L439.00,375.50 L439.00,375.78 L439.00,376.07 L439.00,376.36 L439.00,376.66 L439.00,376.96 L439.00,377.26 L439.00,377.57 L439.00,377.88 L439.00,378.20 L439.00,378.52 L439.00,378.84 L439.00,379.17 L439.01,379.51 L439.01,379.84 L439.01,380.19 L439.01,380.53 L439.01,380.88 L439.01,381.24 L439.01,381.60 L439.01,381.96 L439.01,382.33 L439.01,382.71 L439.01,383.09 L439.01,383.47 L439.01,383.86 L439.01,384.25 L439.01,384.65 L439.01,385.06 L439.01,385.47 L439.01,385.88 L439.01,386.30 L439.01,386.72 L439.01,387.15 L439.01,387.59 L439.01,388.03 L439.01,388.47 L439.01,388.92 L439.02,389.38 L439.02,389.84 L439.02,390.31 L439.02,390.78 L439.02,391.26 L439.02,391.75 L439.02,392.23 L439.02,392.73 L439.02,393.23 L439.02,393.74 L439.02,394.25 L439.02,394.77 L439.03,395.29 L439.03,395.82 L439.03,396.36 L439.03,396.90 L439.03,397.45 L439.03,398.00 L439.03,398.56 L439.03,399.13 L439.04,399.70 L439.04,400.28 L439.04,400.86 L439.04,401.45 L439.04,402.05 L439.05,402.65 L439.05,403.26 L439.05,403.88 L439.05,404.50 L439.05,405.13 L439.06,405.76 L439.06,406.40 L439.06,407.05 L439.06,407.70 L439.07,408.36 L439.07,409.03 L439.07,409.70 L439.08,410.38 L439.08,411.06 L439.08,411.75 L439.09,412.45 L439.09,413.15 L439.10,413.86 L439.10,414.58 L439.10,415.30 L439.11,416.03 L439.11,416.77 L439.12,417.51 L439.12,418.26 L439.13,419.01 L439.14,419.77 L439.14,420.54 L439.15,421.31 L439.15,422.09 L439.16,422.88 L439.17,423.67 L439.18,424.47 L439.18,425.27 L439.19,426.08 L439.20,426.90 L439.21,427.72 L439.22,428.55 L439.23,429.38 L439.24,430.22 L439.25,431.06 L439.26,431.91 L439.27,432.77 L439.28,433.63 L439.30,434.50 L439.31,435.37 L439.32,436.25 L439.34,437.14 L439.35,438.03 L439.37,438.92 L439.38,439.82 L439.40,440.73 L439.42,441.64 L439.44,442.55 L439.46,443.47 L439.48,444.40 L439.50,445.33 L439.52,446.26 L439.55,447.20 L439.57,448.14 L439.60,449.09 L439.62,450.04 L439.65,451.00 L439.68,451.96 L439.71,452.93 L439.74,453.90 L439.77,454.87 L439.81,455.84 L439.84,456.82 L439.88,457.81 L439.92,458.79 L439.96,459.78 L440.00,460.78 L440.05,461.77 L440.10,462.77 L440.14,463.78 L440.20,464.78 L440.25,465.79 L440.30,466.80 L440.36,467.81 L440.42,468.83 L440.49,469.85 L440.55,470.87 L440.62,471.89 L440.70,472.91 L440.77,473.93 L440.85,474.96 L440.93,475.99 L441.02,477.02 L441.11,478.05 L441.20,479.08 L441.30,480.11 L441.40,481.14 L441.51,482.18 L441.62,483.21 L441.74,484.25 L441.86,485.28 L441.99,486.32 L442.12,487.35 L442.26,488.39 L442.41,489.42 L442.56,490.45 L442.72,491.49 L442.88,492.52 L443.06,493.55 L443.24,494.58 L443.43,495.61 L443.62,496.64 L443.83,497.67 L444.04,498.70 L444.27,499.72 L444.50,500.74 L444.75,501.76 L445.01,502.78 L445.27,503.80 L445.55,504.82 L445.85,505.83 L446.15,506.84 L446.47,507.85 L446.80,508.85 L447.15,509.85 L447.51,510.85 L447.89,511.85 L448.29,512.84 L448.70,513.83 L449.14,514.82 L449.59,515.80 L450.06,516.78 L450.55,517.76 L451.07,518.73 L451.61,519.70 L452.17,520.66 L452.76,521.62 L453.37,522.58 L454.01,523.53 L454.68,524.47 L455.38,525.42 L456.11,526.36 L456.87,527.29 L457.67,528.22 L458.50,529.14 L459.37,530.06 L460.28,530.98 L461.23,531.89 L462.22,532.79 L463.25,533.69 L464.33,534.58 L465.46,535.47 L466.64,536.36 L467.88,537.23 L469.16,538.11 L470.51,538.97 L471.91,539.83 L473.38,540.69 L474.91,541.54 L476.51,542.38 L478.19,543.22 L479.93,544.06 L481.76,544.88 L483.67,545.70 L485.66,546.52 L487.74,547.33 L489.91,548.13 L492.18,548.93 L494.55,549.72 L497.03,550.50 L499.61,551.28 L502.32,552.05 L505.14,552.82 L508.09,553.58 L511.17,554.33 L514.39,555.08 L517.75,555.82 L521.26,556.55 L524.93,557.28 L528.76,558.00 L532.76,558.72 L536.94,559.43 L541.31,560.13 L545.87,560.83 L550.63,561.52 L555.61,562.20 L560.81,562.88 L566.24,563.55 L571.91,564.21 L577.84,564.87 L584.03,565.52 L590.49,566.17 L597.25,566.81 L604.30,567.44 L611.67,568.07 L619.37,568.69 L627.41,569.31 L635.81,569.91 L644.59,570.52 L653.75,571.11 L663.33,571.70 L673.33,572.28 L683.77,572.86 L694.69,573.43 L706.09,574.00 L718.00,574.56 L730.43,575.11 L743.43,575.66 L757.00,576.20" fill="none" stroke="#d88a80" stroke-width="0.9"/>
<path d="M439.00,365.36 V348.78 M436.70,365.36 H441.30 M436.70,348.78 H441.30" stroke="#d8e8c8" stroke-width="0.85" fill="none"/>
<path d="M614.80,580.50 V564.81 M612.50,580.50 H617.10 M612.50,564.81 H617.10" stroke="#f0a0a0" stroke-width="0.85" fill="none"/>
<path d="M453.65,517.75 V506.55 M451.35,517.75 H455.95 M451.35,506.55 H455.95" stroke="#d8c8e0" stroke-width="0.85" fill="none"/>
<rect x="450.80" y="558.38" width="5.70" height="5.70" fill="#3a3a3a" stroke="#2e2e2e" stroke-width="0.5"/>
<rect x="480.10" y="555.46" width="5.70" height="5.70" fill="#3a3a3a" stroke="#2e2e2e" stroke-width="0.5"/>
<rect x="524.05" y="556.58" width="5.70" height="5.70" fill="#3a3a3a" stroke="#2e2e2e" stroke-width="0.5"/>
<rect x="568.00" y="561.74" width="5.70" height="5.70" fill="#3a3a3a" stroke="#2e2e2e" stroke-width="0.5"/>
<rect x="611.95" y="564.43" width="5.70" height="5.70" fill="#3a3a3a" stroke="#2e2e2e" stroke-width="0.5"/>
<rect x="655.90" y="568.46" width="5.70" height="5.70" fill="#3a3a3a" stroke="#2e2e2e" stroke-width="0.5"/>
<rect x="699.85" y="569.80" width="5.70" height="5.70" fill="#3a3a3a" stroke="#2e2e2e" stroke-width="0.5"/>
<rect x="743.80" y="572.27" width="5.70" height="5.70" fill="#3a3a3a" stroke="#2e2e2e" stroke-width="0.5"/>
<circle cx="453.65" cy="557.42" r="3.13" fill="#e8202a" stroke="#c81a20" stroke-width="0.5"/>
<circle cx="482.95" cy="554.73" r="3.13" fill="#e8202a" stroke="#c81a20" stroke-width="0.5"/>
<circle cx="526.90" cy="559.88" r="3.13" fill="#e8202a" stroke="#c81a20" stroke-width="0.5"/>
<circle cx="570.85" cy="564.36" r="3.13" fill="#e8202a" stroke="#c81a20" stroke-width="0.5"/>
<circle cx="614.80" cy="572.66" r="3.13" fill="#e8202a" stroke="#c81a20" stroke-width="0.5"/>
<circle cx="658.75" cy="571.09" r="3.13" fill="#e8202a" stroke="#c81a20" stroke-width="0.5"/>
<circle cx="702.70" cy="572.66" r="3.13" fill="#e8202a" stroke="#c81a20" stroke-width="0.5"/>
<circle cx="746.65" cy="574.67" r="3.13" fill="#e8202a" stroke="#c81a20" stroke-width="0.5"/>
<polygon points="453.65,520.45 457.15,526.71 450.15,526.71" fill="#2a55d0" stroke="#2448b0" stroke-width="0.5"/>
<polygon points="482.95,534.12 486.45,540.38 479.45,540.38" fill="#2a55d0" stroke="#2448b0" stroke-width="0.5"/>
<polygon points="526.90,547.79 530.40,554.05 523.40,554.05" fill="#2a55d0" stroke="#2448b0" stroke-width="0.5"/>
<polygon points="570.85,554.74 574.35,560.99 567.35,560.99" fill="#2a55d0" stroke="#2448b0" stroke-width="0.5"/>
<polygon points="614.80,559.44 618.30,565.70 611.30,565.70" fill="#2a55d0" stroke="#2448b0" stroke-width="0.5"/>
<polygon points="658.75,562.81 662.25,569.06 655.25,569.06" fill="#2a55d0" stroke="#2448b0" stroke-width="0.5"/>
<polygon points="702.70,566.39 706.20,572.65 699.20,572.65" fill="#2a55d0" stroke="#2448b0" stroke-width="0.5"/>
<polygon points="746.65,569.53 750.15,575.78 743.15,575.78" fill="#2a55d0" stroke="#2448b0" stroke-width="0.5"/>
<polygon points="439.00,576.10 442.80,582.70 435.20,582.70" fill="#348c6c" stroke="#2c6450" stroke-width="0.5"/>
<polygon points="439.00,584.90 442.80,578.30 435.20,578.30" fill="#348c6c" stroke="#2c6450" stroke-width="0.5"/>
<circle cx="439.00" cy="580.50" r="2.6" fill="#3c9070"/>
<polygon points="453.65,526.71 457.15,520.45 450.15,520.45" fill="#28a070" stroke="#208a60" stroke-width="0.5"/>
<polygon points="482.95,540.38 486.45,534.12 479.45,534.12" fill="#28a070" stroke="#208a60" stroke-width="0.5"/>
<polygon points="526.90,556.74 530.40,550.48 523.40,550.48" fill="#28a070" stroke="#208a60" stroke-width="0.5"/>
<polygon points="570.85,560.99 574.35,554.74 567.35,554.74" fill="#28a070" stroke="#208a60" stroke-width="0.5"/>
<polygon points="614.80,565.70 618.30,559.44 611.30,559.44" fill="#28a070" stroke="#208a60" stroke-width="0.5"/>
<polygon points="658.75,569.06 662.25,562.81 655.25,562.81" fill="#28a070" stroke="#208a60" stroke-width="0.5"/>
<polygon points="702.70,572.65 706.20,566.39 699.20,566.39" fill="#28a070" stroke="#208a60" stroke-width="0.5"/>
<polygon points="746.65,575.78 750.15,569.53 743.15,569.53" fill="#28a070" stroke="#208a60" stroke-width="0.5"/>
<polygon points="453.65,511.47 457.24,515.06 453.65,518.65 450.06,515.06" fill="#b070dc" stroke="#9a60c8" stroke-width="0.5"/>
<polygon points="482.95,542.62 486.54,546.21 482.95,549.80 479.36,546.21" fill="#b070dc" stroke="#9a60c8" stroke-width="0.5"/>
<polygon points="526.90,555.85 530.49,559.43 526.90,563.02 523.31,559.43" fill="#b070dc" stroke="#9a60c8" stroke-width="0.5"/>
<polygon points="570.85,560.10 574.44,563.69 570.85,567.28 567.26,563.69" fill="#b070dc" stroke="#9a60c8" stroke-width="0.5"/>
<polygon points="614.80,563.47 618.39,567.05 614.80,570.64 611.21,567.05" fill="#b070dc" stroke="#9a60c8" stroke-width="0.5"/>
<polygon points="658.75,566.83 662.34,570.42 658.75,574.00 655.16,570.42" fill="#b070dc" stroke="#9a60c8" stroke-width="0.5"/>
<polygon points="702.70,569.07 706.29,572.66 702.70,576.24 699.11,572.66" fill="#b070dc" stroke="#9a60c8" stroke-width="0.5"/>
<polygon points="746.65,570.64 750.24,574.23 746.65,577.81 743.06,574.23" fill="#b070dc" stroke="#9a60c8" stroke-width="0.5"/>
<polygon points="450.52,530.30 456.78,526.81 456.78,533.80" fill="#dc9a18" stroke="#c08410" stroke-width="0.5"/>
<polygon points="479.82,546.21 486.08,542.72 486.08,549.71" fill="#dc9a18" stroke="#c08410" stroke-width="0.5"/>
<polygon points="523.77,559.43 530.03,555.94 530.03,562.93" fill="#dc9a18" stroke="#c08410" stroke-width="0.5"/>
<polygon points="567.72,564.59 573.98,561.09 573.98,568.08" fill="#dc9a18" stroke="#c08410" stroke-width="0.5"/>
<polygon points="611.67,567.28 617.93,563.78 617.93,570.77" fill="#dc9a18" stroke="#c08410" stroke-width="0.5"/>
<polygon points="655.62,571.31 661.88,567.82 661.88,574.81" fill="#dc9a18" stroke="#c08410" stroke-width="0.5"/>
<polygon points="699.57,572.66 705.83,569.16 705.83,576.15" fill="#dc9a18" stroke="#c08410" stroke-width="0.5"/>
<polygon points="743.52,575.12 749.78,571.63 749.78,578.62" fill="#dc9a18" stroke="#c08410" stroke-width="0.5"/>
<polygon points="456.78,438.87 450.52,435.37 450.52,442.36" fill="#16c0c2" stroke="#12a8aa" stroke-width="0.5"/>
<polygon points="486.08,479.65 479.82,476.16 479.82,483.15" fill="#16c0c2" stroke="#12a8aa" stroke-width="0.5"/>
<polygon points="530.03,508.34 523.77,504.84 523.77,511.84" fill="#16c0c2" stroke="#12a8aa" stroke-width="0.5"/>
<polygon points="573.98,526.72 567.72,523.22 567.72,530.21" fill="#16c0c2" stroke="#12a8aa" stroke-width="0.5"/>
<polygon points="617.93,542.85 611.67,539.36 611.67,546.35" fill="#16c0c2" stroke="#12a8aa" stroke-width="0.5"/>
<polygon points="661.88,552.71 655.62,549.22 655.62,556.21" fill="#16c0c2" stroke="#12a8aa" stroke-width="0.5"/>
<polygon points="705.83,559.43 699.57,555.94 699.57,562.93" fill="#16c0c2" stroke="#12a8aa" stroke-width="0.5"/>
<polygon points="749.78,564.14 743.52,560.64 743.52,567.64" fill="#16c0c2" stroke="#12a8aa" stroke-width="0.5"/>
<polygon points="439.00,352.95 441.99,354.67 441.99,358.12 439.00,359.85 436.01,358.12 436.01,354.67" fill="#704040" stroke="#583030" stroke-width="0.5"/>
<polygon points="453.65,445.73 456.64,447.45 456.64,450.90 453.65,452.63 450.66,450.90 450.66,447.45" fill="#704040" stroke="#583030" stroke-width="0.5"/>
<polygon points="482.95,475.08 485.94,476.81 485.94,480.26 482.95,481.98 479.96,480.26 479.96,476.81" fill="#704040" stroke="#583030" stroke-width="0.5"/>
<polygon points="526.90,508.48 529.89,510.20 529.89,513.65 526.90,515.38 523.91,513.65 523.91,510.20" fill="#704040" stroke="#583030" stroke-width="0.5"/>
<polygon points="570.85,522.37 573.84,524.09 573.84,527.54 570.85,529.27 567.86,527.54 567.86,524.09" fill="#704040" stroke="#583030" stroke-width="0.5"/>
<polygon points="614.80,538.73 617.79,540.45 617.79,543.90 614.80,545.63 611.81,543.90 611.81,540.45" fill="#704040" stroke="#583030" stroke-width="0.5"/>
<polygon points="658.75,542.76 661.74,544.49 661.74,547.94 658.75,549.66 655.76,547.94 655.76,544.49" fill="#704040" stroke="#583030" stroke-width="0.5"/>
<polygon points="702.70,548.59 705.69,550.31 705.69,553.76 702.70,555.49 699.71,553.76 699.71,550.31" fill="#704040" stroke="#583030" stroke-width="0.5"/>
<polygon points="746.65,555.98 749.64,557.71 749.64,561.16 746.65,562.88 743.66,561.16 743.66,557.71" fill="#704040" stroke="#583030" stroke-width="0.5"/>
</svg></body></html>
